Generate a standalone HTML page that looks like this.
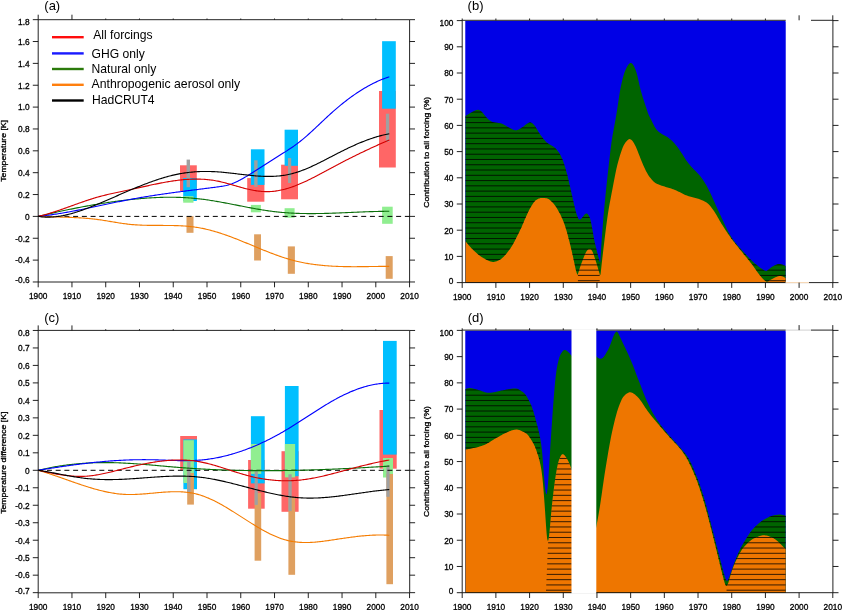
<!DOCTYPE html>
<html><head><meta charset="utf-8"><title>Figure</title>
<style>
html,body{margin:0;padding:0;background:#fff;}
svg{display:block;font-family:"Liberation Sans", sans-serif;fill:#000;will-change:transform;}
.tk{stroke:#000;stroke-width:0.32px;}
</style></head>
<body>
<svg width="842" height="610" viewBox="0 0 842 610">
<rect width="842" height="610" fill="#fff"/>
<g id="pa">
<rect x="180" y="165.3" width="16.8" height="25.7" fill="#ff6666"/>
<rect x="247.2" y="178.1" width="17.2" height="23.6" fill="#ff6666"/>
<rect x="281.1" y="164.7" width="16.9" height="34.6" fill="#ff6666"/>
<rect x="379" y="91" width="16.8" height="76.5" fill="#ff6666"/>
<rect x="183.2" y="178" width="13.6" height="23" fill="#00bfff"/>
<rect x="250.9" y="149.3" width="13.6" height="35.6" fill="#00bfff"/>
<rect x="284.6" y="129.7" width="13.4" height="36.1" fill="#00bfff"/>
<rect x="382.1" y="41.2" width="13.7" height="67.5" fill="#00bfff"/>
<rect x="183.2" y="196.2" width="10.3" height="6.5" fill="#90ee90"/>
<rect x="250.9" y="204.9" width="10" height="7.4" fill="#90ee90"/>
<rect x="284.6" y="208.2" width="10" height="9.5" fill="#90ee90"/>
<rect x="382.1" y="206.7" width="10.6" height="17.1" fill="#90ee90"/>
<rect x="186.5" y="216.2" width="7" height="16.6" fill="#dfa060"/>
<rect x="254.1" y="234.3" width="6.9" height="26.2" fill="#dfa060"/>
<rect x="287.8" y="246.4" width="7.1" height="27.4" fill="#dfa060"/>
<rect x="385.7" y="256.1" width="7" height="22.7" fill="#dfa060"/>
<rect x="186.6" y="159.6" width="3.4" height="27.6" fill="#a0a0a0"/>
<rect x="254.2" y="160.3" width="3.4" height="26.5" fill="#a0a0a0"/>
<rect x="288" y="158.1" width="3.2" height="24.9" fill="#a0a0a0"/>
<rect x="385.9" y="113.7" width="3.3" height="28" fill="#a0a0a0"/>
<line x1="38.2" y1="216.4" x2="409.6" y2="216.4" stroke="#000" stroke-width="1" stroke-dasharray="5 3.73"/>
<path d="M38.2,216.4 L39.37,216.45 L40.55,216.5 L41.72,216.55 L42.9,216.59 L44.07,216.63 L45.25,216.67 L46.42,216.71 L47.59,216.75 L48.77,216.78 L49.94,216.81 L51.12,216.85 L52.29,216.88 L53.47,216.91 L54.64,216.94 L55.81,216.97 L56.99,217 L58.16,217.03 L59.34,217.06 L60.51,217.09 L61.69,217.12 L62.86,217.15 L64.03,217.19 L65.21,217.22 L66.38,217.26 L67.56,217.3 L68.73,217.34 L69.91,217.38 L71.08,217.43 L72.25,217.47 L73.43,217.52 L74.6,217.58 L75.78,217.63 L76.95,217.69 L78.12,217.76 L79.3,217.82 L80.47,217.89 L81.65,217.97 L82.82,218.05 L84,218.13 L85.17,218.22 L86.34,218.32 L87.52,218.41 L88.69,218.52 L89.87,218.63 L91.04,218.74 L92.22,218.87 L93.39,218.99 L94.56,219.13 L95.74,219.27 L96.91,219.42 L98.09,219.57 L99.26,219.73 L100.44,219.9 L101.61,220.07 L102.78,220.25 L103.96,220.43 L105.13,220.62 L106.31,220.81 L107.48,221 L108.66,221.19 L109.83,221.39 L111,221.58 L112.18,221.78 L113.35,221.98 L114.53,222.17 L115.7,222.36 L116.88,222.55 L118.05,222.74 L119.22,222.93 L120.4,223.11 L121.57,223.28 L122.75,223.45 L123.92,223.62 L125.1,223.78 L126.27,223.93 L127.44,224.07 L128.62,224.21 L129.79,224.34 L130.97,224.46 L132.14,224.57 L133.32,224.67 L134.49,224.76 L135.66,224.84 L136.84,224.92 L138.01,224.99 L139.19,225.05 L140.36,225.11 L141.53,225.16 L142.71,225.2 L143.88,225.24 L145.06,225.28 L146.23,225.31 L147.41,225.33 L148.58,225.35 L149.75,225.37 L150.93,225.39 L152.1,225.4 L153.28,225.41 L154.45,225.41 L155.63,225.42 L156.8,225.42 L157.97,225.43 L159.15,225.43 L160.32,225.43 L161.5,225.43 L162.67,225.43 L163.85,225.44 L165.02,225.44 L166.19,225.45 L167.37,225.46 L168.54,225.47 L169.72,225.48 L170.89,225.5 L172.07,225.52 L173.24,225.54 L174.41,225.57 L175.59,225.6 L176.76,225.64 L177.94,225.68 L179.11,225.73 L180.29,225.78 L181.46,225.84 L182.63,225.91 L183.81,225.98 L184.98,226.06 L186.16,226.15 L187.33,226.25 L188.51,226.35 L189.68,226.47 L190.85,226.59 L192.03,226.73 L193.2,226.87 L194.38,227.02 L195.55,227.19 L196.73,227.37 L197.9,227.55 L199.07,227.75 L200.25,227.96 L201.42,228.19 L202.6,228.42 L203.77,228.67 L204.95,228.92 L206.12,229.19 L207.29,229.47 L208.47,229.76 L209.64,230.05 L210.82,230.36 L211.99,230.68 L213.16,231 L214.34,231.34 L215.51,231.68 L216.69,232.04 L217.86,232.4 L219.04,232.77 L220.21,233.14 L221.38,233.53 L222.56,233.92 L223.73,234.32 L224.91,234.72 L226.08,235.13 L227.26,235.55 L228.43,235.98 L229.6,236.4 L230.78,236.84 L231.95,237.28 L233.13,237.73 L234.3,238.18 L235.48,238.63 L236.65,239.09 L237.82,239.55 L239,240.02 L240.17,240.49 L241.35,240.96 L242.52,241.44 L243.7,241.92 L244.87,242.4 L246.04,242.88 L247.22,243.37 L248.39,243.85 L249.57,244.34 L250.74,244.83 L251.92,245.31 L253.09,245.8 L254.26,246.29 L255.44,246.78 L256.61,247.26 L257.79,247.75 L258.96,248.23 L260.14,248.71 L261.31,249.19 L262.48,249.67 L263.66,250.15 L264.83,250.62 L266.01,251.09 L267.18,251.56 L268.36,252.02 L269.53,252.48 L270.7,252.93 L271.88,253.38 L273.05,253.82 L274.23,254.26 L275.4,254.69 L276.57,255.12 L277.75,255.54 L278.92,255.96 L280.1,256.37 L281.27,256.77 L282.45,257.16 L283.62,257.55 L284.79,257.93 L285.97,258.3 L287.14,258.66 L288.32,259.01 L289.49,259.35 L290.67,259.69 L291.84,260.01 L293.01,260.33 L294.19,260.63 L295.36,260.93 L296.54,261.21 L297.71,261.49 L298.89,261.76 L300.06,262.02 L301.23,262.27 L302.41,262.51 L303.58,262.74 L304.76,262.96 L305.93,263.18 L307.11,263.39 L308.28,263.59 L309.45,263.78 L310.63,263.96 L311.8,264.14 L312.98,264.31 L314.15,264.47 L315.33,264.62 L316.5,264.77 L317.67,264.91 L318.85,265.05 L320.02,265.18 L321.2,265.3 L322.37,265.41 L323.55,265.52 L324.72,265.63 L325.89,265.72 L327.07,265.81 L328.24,265.9 L329.42,265.98 L330.59,266.06 L331.77,266.13 L332.94,266.19 L334.11,266.25 L335.29,266.31 L336.46,266.36 L337.64,266.41 L338.81,266.45 L339.99,266.49 L341.16,266.53 L342.33,266.56 L343.51,266.58 L344.68,266.61 L345.86,266.63 L347.03,266.65 L348.2,266.66 L349.38,266.67 L350.55,266.68 L351.73,266.69 L352.9,266.69 L354.08,266.69 L355.25,266.69 L356.42,266.69 L357.6,266.68 L358.77,266.68 L359.95,266.67 L361.12,266.66 L362.3,266.65 L363.47,266.63 L364.64,266.62 L365.82,266.61 L366.99,266.59 L368.17,266.58 L369.34,266.56 L370.52,266.54 L371.69,266.53 L372.86,266.51 L374.04,266.49 L375.21,266.48 L376.39,266.46 L377.56,266.44 L378.74,266.43 L379.91,266.42 L381.08,266.4 L382.26,266.39 L383.43,266.38 L384.61,266.37 L385.78,266.36 L386.96,266.36 L388.13,266.35 L389.3,266.35" fill="none" stroke="#f57c00" stroke-width="1.12" stroke-linejoin="round"/>
<path d="M38.2,216.4 L39.37,216.12 L40.55,215.84 L41.72,215.56 L42.9,215.29 L44.07,215.01 L45.25,214.74 L46.42,214.46 L47.59,214.19 L48.77,213.92 L49.94,213.65 L51.12,213.39 L52.29,213.12 L53.47,212.86 L54.64,212.59 L55.81,212.33 L56.99,212.07 L58.16,211.81 L59.34,211.56 L60.51,211.3 L61.69,211.05 L62.86,210.8 L64.03,210.55 L65.21,210.3 L66.38,210.05 L67.56,209.8 L68.73,209.56 L69.91,209.32 L71.08,209.08 L72.25,208.84 L73.43,208.6 L74.6,208.37 L75.78,208.13 L76.95,207.9 L78.12,207.67 L79.3,207.44 L80.47,207.22 L81.65,206.99 L82.82,206.77 L84,206.55 L85.17,206.33 L86.34,206.11 L87.52,205.9 L88.69,205.69 L89.87,205.48 L91.04,205.27 L92.22,205.06 L93.39,204.86 L94.56,204.66 L95.74,204.46 L96.91,204.26 L98.09,204.06 L99.26,203.87 L100.44,203.68 L101.61,203.49 L102.78,203.3 L103.96,203.11 L105.13,202.93 L106.31,202.75 L107.48,202.57 L108.66,202.4 L109.83,202.22 L111,202.05 L112.18,201.88 L113.35,201.72 L114.53,201.55 L115.7,201.39 L116.88,201.23 L118.05,201.08 L119.22,200.92 L120.4,200.77 L121.57,200.62 L122.75,200.48 L123.92,200.33 L125.1,200.19 L126.27,200.05 L127.44,199.92 L128.62,199.78 L129.79,199.65 L130.97,199.52 L132.14,199.4 L133.32,199.28 L134.49,199.16 L135.66,199.04 L136.84,198.93 L138.01,198.82 L139.19,198.71 L140.36,198.61 L141.53,198.51 L142.71,198.41 L143.88,198.32 L145.06,198.23 L146.23,198.14 L147.41,198.06 L148.58,197.98 L149.75,197.91 L150.93,197.84 L152.1,197.77 L153.28,197.7 L154.45,197.64 L155.63,197.59 L156.8,197.54 L157.97,197.49 L159.15,197.45 L160.32,197.41 L161.5,197.37 L162.67,197.34 L163.85,197.31 L165.02,197.29 L166.19,197.27 L167.37,197.26 L168.54,197.25 L169.72,197.25 L170.89,197.25 L172.07,197.26 L173.24,197.27 L174.41,197.28 L175.59,197.3 L176.76,197.33 L177.94,197.36 L179.11,197.39 L180.29,197.43 L181.46,197.48 L182.63,197.53 L183.81,197.59 L184.98,197.65 L186.16,197.72 L187.33,197.79 L188.51,197.87 L189.68,197.95 L190.85,198.04 L192.03,198.13 L193.2,198.24 L194.38,198.34 L195.55,198.45 L196.73,198.57 L197.9,198.7 L199.07,198.83 L200.25,198.96 L201.42,199.11 L202.6,199.25 L203.77,199.41 L204.95,199.56 L206.12,199.73 L207.29,199.9 L208.47,200.07 L209.64,200.25 L210.82,200.43 L211.99,200.61 L213.16,200.8 L214.34,201 L215.51,201.19 L216.69,201.4 L217.86,201.6 L219.04,201.81 L220.21,202.02 L221.38,202.23 L222.56,202.44 L223.73,202.66 L224.91,202.88 L226.08,203.1 L227.26,203.32 L228.43,203.55 L229.6,203.77 L230.78,204 L231.95,204.23 L233.13,204.46 L234.3,204.69 L235.48,204.92 L236.65,205.15 L237.82,205.38 L239,205.61 L240.17,205.84 L241.35,206.07 L242.52,206.3 L243.7,206.53 L244.87,206.76 L246.04,206.98 L247.22,207.21 L248.39,207.43 L249.57,207.66 L250.74,207.88 L251.92,208.09 L253.09,208.31 L254.26,208.52 L255.44,208.73 L256.61,208.94 L257.79,209.15 L258.96,209.35 L260.14,209.55 L261.31,209.74 L262.48,209.93 L263.66,210.12 L264.83,210.3 L266.01,210.48 L267.18,210.66 L268.36,210.83 L269.53,210.99 L270.7,211.15 L271.88,211.3 L273.05,211.45 L274.23,211.6 L275.4,211.74 L276.57,211.87 L277.75,212 L278.92,212.12 L280.1,212.23 L281.27,212.34 L282.45,212.45 L283.62,212.55 L284.79,212.64 L285.97,212.73 L287.14,212.81 L288.32,212.89 L289.49,212.97 L290.67,213.04 L291.84,213.1 L293.01,213.16 L294.19,213.22 L295.36,213.27 L296.54,213.32 L297.71,213.36 L298.89,213.4 L300.06,213.44 L301.23,213.47 L302.41,213.5 L303.58,213.52 L304.76,213.54 L305.93,213.56 L307.11,213.57 L308.28,213.58 L309.45,213.59 L310.63,213.59 L311.8,213.59 L312.98,213.59 L314.15,213.58 L315.33,213.58 L316.5,213.56 L317.67,213.55 L318.85,213.53 L320.02,213.52 L321.2,213.49 L322.37,213.47 L323.55,213.45 L324.72,213.42 L325.89,213.39 L327.07,213.36 L328.24,213.32 L329.42,213.29 L330.59,213.25 L331.77,213.21 L332.94,213.17 L334.11,213.13 L335.29,213.09 L336.46,213.04 L337.64,213 L338.81,212.95 L339.99,212.91 L341.16,212.86 L342.33,212.81 L343.51,212.76 L344.68,212.71 L345.86,212.66 L347.03,212.61 L348.2,212.56 L349.38,212.51 L350.55,212.45 L351.73,212.4 L352.9,212.35 L354.08,212.3 L355.25,212.25 L356.42,212.2 L357.6,212.15 L358.77,212.1 L359.95,212.05 L361.12,212 L362.3,211.95 L363.47,211.9 L364.64,211.86 L365.82,211.81 L366.99,211.77 L368.17,211.73 L369.34,211.68 L370.52,211.64 L371.69,211.61 L372.86,211.57 L374.04,211.53 L375.21,211.5 L376.39,211.47 L377.56,211.44 L378.74,211.41 L379.91,211.38 L381.08,211.36 L382.26,211.34 L383.43,211.32 L384.61,211.3 L385.78,211.29 L386.96,211.28 L388.13,211.27 L389.3,211.26" fill="none" stroke="#0a6e0a" stroke-width="1.12" stroke-linejoin="round"/>
<path d="M38.2,216.4 L39.37,216.28 L40.55,216.15 L41.72,216.02 L42.9,215.89 L44.07,215.75 L45.25,215.61 L46.42,215.46 L47.59,215.31 L48.77,215.15 L49.94,214.99 L51.12,214.83 L52.29,214.66 L53.47,214.49 L54.64,214.31 L55.81,214.13 L56.99,213.95 L58.16,213.76 L59.34,213.57 L60.51,213.38 L61.69,213.18 L62.86,212.98 L64.03,212.78 L65.21,212.57 L66.38,212.36 L67.56,212.15 L68.73,211.94 L69.91,211.72 L71.08,211.5 L72.25,211.28 L73.43,211.06 L74.6,210.83 L75.78,210.61 L76.95,210.38 L78.12,210.14 L79.3,209.91 L80.47,209.68 L81.65,209.44 L82.82,209.2 L84,208.96 L85.17,208.72 L86.34,208.48 L87.52,208.24 L88.69,207.99 L89.87,207.75 L91.04,207.5 L92.22,207.25 L93.39,207.01 L94.56,206.76 L95.74,206.51 L96.91,206.26 L98.09,206.01 L99.26,205.76 L100.44,205.51 L101.61,205.26 L102.78,205.01 L103.96,204.77 L105.13,204.52 L106.31,204.27 L107.48,204.02 L108.66,203.77 L109.83,203.52 L111,203.28 L112.18,203.03 L113.35,202.79 L114.53,202.55 L115.7,202.3 L116.88,202.06 L118.05,201.82 L119.22,201.58 L120.4,201.35 L121.57,201.11 L122.75,200.88 L123.92,200.65 L125.1,200.41 L126.27,200.19 L127.44,199.96 L128.62,199.74 L129.79,199.51 L130.97,199.3 L132.14,199.08 L133.32,198.86 L134.49,198.65 L135.66,198.44 L136.84,198.23 L138.01,198.03 L139.19,197.82 L140.36,197.62 L141.53,197.42 L142.71,197.22 L143.88,197.03 L145.06,196.83 L146.23,196.64 L147.41,196.45 L148.58,196.26 L149.75,196.07 L150.93,195.89 L152.1,195.7 L153.28,195.52 L154.45,195.34 L155.63,195.16 L156.8,194.98 L157.97,194.81 L159.15,194.63 L160.32,194.46 L161.5,194.29 L162.67,194.12 L163.85,193.95 L165.02,193.78 L166.19,193.62 L167.37,193.45 L168.54,193.29 L169.72,193.12 L170.89,192.96 L172.07,192.8 L173.24,192.64 L174.41,192.48 L175.59,192.32 L176.76,192.16 L177.94,192.01 L179.11,191.85 L180.29,191.7 L181.46,191.54 L182.63,191.39 L183.81,191.24 L184.98,191.08 L186.16,190.93 L187.33,190.78 L188.51,190.63 L189.68,190.48 L190.85,190.33 L192.03,190.18 L193.2,190.03 L194.38,189.88 L195.55,189.73 L196.73,189.59 L197.9,189.44 L199.07,189.29 L200.25,189.14 L201.42,188.99 L202.6,188.85 L203.77,188.7 L204.95,188.55 L206.12,188.4 L207.29,188.26 L208.47,188.11 L209.64,187.96 L210.82,187.81 L211.99,187.66 L213.16,187.51 L214.34,187.36 L215.51,187.21 L216.69,187.06 L217.86,186.91 L219.04,186.75 L220.21,186.57 L221.38,186.39 L222.56,186.19 L223.73,185.97 L224.91,185.73 L226.08,185.47 L227.26,185.18 L228.43,184.86 L229.6,184.5 L230.78,184.12 L231.95,183.7 L233.13,183.24 L234.3,182.76 L235.48,182.24 L236.65,181.7 L237.82,181.13 L239,180.54 L240.17,179.93 L241.35,179.3 L242.52,178.65 L243.7,177.99 L244.87,177.31 L246.04,176.62 L247.22,175.92 L248.39,175.21 L249.57,174.49 L250.74,173.77 L251.92,173.04 L253.09,172.31 L254.26,171.57 L255.44,170.82 L256.61,170.07 L257.79,169.32 L258.96,168.57 L260.14,167.81 L261.31,167.05 L262.48,166.29 L263.66,165.53 L264.83,164.76 L266.01,164 L267.18,163.24 L268.36,162.48 L269.53,161.72 L270.7,160.97 L271.88,160.21 L273.05,159.46 L274.23,158.72 L275.4,157.98 L276.57,157.24 L277.75,156.51 L278.92,155.78 L280.1,155.05 L281.27,154.32 L282.45,153.58 L283.62,152.84 L284.79,152.1 L285.97,151.36 L287.14,150.6 L288.32,149.84 L289.49,149.07 L290.67,148.28 L291.84,147.49 L293.01,146.68 L294.19,145.85 L295.36,145.02 L296.54,144.16 L297.71,143.28 L298.89,142.39 L300.06,141.47 L301.23,140.54 L302.41,139.58 L303.58,138.6 L304.76,137.61 L305.93,136.59 L307.11,135.57 L308.28,134.53 L309.45,133.47 L310.63,132.41 L311.8,131.33 L312.98,130.25 L314.15,129.16 L315.33,128.06 L316.5,126.95 L317.67,125.84 L318.85,124.73 L320.02,123.62 L321.2,122.51 L322.37,121.4 L323.55,120.29 L324.72,119.19 L325.89,118.09 L327.07,116.99 L328.24,115.91 L329.42,114.83 L330.59,113.76 L331.77,112.71 L332.94,111.66 L334.11,110.63 L335.29,109.61 L336.46,108.6 L337.64,107.6 L338.81,106.61 L339.99,105.64 L341.16,104.67 L342.33,103.72 L343.51,102.78 L344.68,101.86 L345.86,100.94 L347.03,100.04 L348.2,99.15 L349.38,98.27 L350.55,97.41 L351.73,96.56 L352.9,95.72 L354.08,94.9 L355.25,94.09 L356.42,93.29 L357.6,92.5 L358.77,91.73 L359.95,90.97 L361.12,90.23 L362.3,89.5 L363.47,88.79 L364.64,88.08 L365.82,87.4 L366.99,86.72 L368.17,86.07 L369.34,85.42 L370.52,84.79 L371.69,84.18 L372.86,83.58 L374.04,83 L375.21,82.43 L376.39,81.87 L377.56,81.34 L378.74,80.81 L379.91,80.31 L381.08,79.81 L382.26,79.34 L383.43,78.88 L384.61,78.44 L385.78,78.01 L386.96,77.6 L388.13,77.2 L389.3,76.82" fill="none" stroke="#0000ff" stroke-width="1.12" stroke-linejoin="round"/>
<path d="M38.2,216.4 L39.37,216.13 L40.55,215.84 L41.72,215.54 L42.9,215.24 L44.07,214.93 L45.25,214.6 L46.42,214.27 L47.59,213.93 L48.77,213.59 L49.94,213.23 L51.12,212.87 L52.29,212.5 L53.47,212.13 L54.64,211.75 L55.81,211.36 L56.99,210.97 L58.16,210.58 L59.34,210.18 L60.51,209.77 L61.69,209.37 L62.86,208.96 L64.03,208.54 L65.21,208.13 L66.38,207.71 L67.56,207.29 L68.73,206.87 L69.91,206.45 L71.08,206.03 L72.25,205.6 L73.43,205.18 L74.6,204.76 L75.78,204.34 L76.95,203.92 L78.12,203.5 L79.3,203.08 L80.47,202.67 L81.65,202.26 L82.82,201.85 L84,201.44 L85.17,201.04 L86.34,200.64 L87.52,200.25 L88.69,199.86 L89.87,199.48 L91.04,199.11 L92.22,198.73 L93.39,198.37 L94.56,198.01 L95.74,197.66 L96.91,197.32 L98.09,196.99 L99.26,196.66 L100.44,196.34 L101.61,196.03 L102.78,195.72 L103.96,195.42 L105.13,195.13 L106.31,194.84 L107.48,194.56 L108.66,194.28 L109.83,194.01 L111,193.74 L112.18,193.48 L113.35,193.22 L114.53,192.96 L115.7,192.7 L116.88,192.45 L118.05,192.2 L119.22,191.95 L120.4,191.7 L121.57,191.45 L122.75,191.21 L123.92,190.96 L125.1,190.71 L126.27,190.47 L127.44,190.22 L128.62,189.97 L129.79,189.72 L130.97,189.46 L132.14,189.21 L133.32,188.95 L134.49,188.7 L135.66,188.44 L136.84,188.18 L138.01,187.92 L139.19,187.66 L140.36,187.39 L141.53,187.13 L142.71,186.87 L143.88,186.61 L145.06,186.35 L146.23,186.09 L147.41,185.83 L148.58,185.58 L149.75,185.32 L150.93,185.07 L152.1,184.82 L153.28,184.57 L154.45,184.32 L155.63,184.08 L156.8,183.84 L157.97,183.6 L159.15,183.37 L160.32,183.14 L161.5,182.91 L162.67,182.69 L163.85,182.47 L165.02,182.26 L166.19,182.05 L167.37,181.85 L168.54,181.65 L169.72,181.46 L170.89,181.27 L172.07,181.09 L173.24,180.92 L174.41,180.75 L175.59,180.59 L176.76,180.43 L177.94,180.28 L179.11,180.14 L180.29,180.01 L181.46,179.89 L182.63,179.77 L183.81,179.66 L184.98,179.56 L186.16,179.47 L187.33,179.39 L188.51,179.32 L189.68,179.25 L190.85,179.2 L192.03,179.16 L193.2,179.12 L194.38,179.1 L195.55,179.09 L196.73,179.08 L197.9,179.09 L199.07,179.11 L200.25,179.14 L201.42,179.19 L202.6,179.24 L203.77,179.31 L204.95,179.39 L206.12,179.48 L207.29,179.59 L208.47,179.71 L209.64,179.84 L210.82,179.99 L211.99,180.15 L213.16,180.32 L214.34,180.51 L215.51,180.71 L216.69,180.93 L217.86,181.16 L219.04,181.41 L220.21,181.67 L221.38,181.94 L222.56,182.22 L223.73,182.52 L224.91,182.82 L226.08,183.13 L227.26,183.45 L228.43,183.78 L229.6,184.11 L230.78,184.44 L231.95,184.78 L233.13,185.12 L234.3,185.46 L235.48,185.8 L236.65,186.14 L237.82,186.48 L239,186.82 L240.17,187.15 L241.35,187.48 L242.52,187.8 L243.7,188.12 L244.87,188.42 L246.04,188.72 L247.22,189.01 L248.39,189.29 L249.57,189.55 L250.74,189.8 L251.92,190.04 L253.09,190.27 L254.26,190.48 L255.44,190.67 L256.61,190.85 L257.79,191.01 L258.96,191.15 L260.14,191.28 L261.31,191.39 L262.48,191.47 L263.66,191.54 L264.83,191.59 L266.01,191.62 L267.18,191.63 L268.36,191.62 L269.53,191.58 L270.7,191.53 L271.88,191.45 L273.05,191.34 L274.23,191.22 L275.4,191.07 L276.57,190.9 L277.75,190.72 L278.92,190.51 L280.1,190.28 L281.27,190.03 L282.45,189.76 L283.62,189.48 L284.79,189.18 L285.97,188.86 L287.14,188.52 L288.32,188.17 L289.49,187.8 L290.67,187.41 L291.84,187.01 L293.01,186.6 L294.19,186.17 L295.36,185.73 L296.54,185.27 L297.71,184.8 L298.89,184.32 L300.06,183.83 L301.23,183.33 L302.41,182.81 L303.58,182.29 L304.76,181.75 L305.93,181.21 L307.11,180.65 L308.28,180.09 L309.45,179.52 L310.63,178.94 L311.8,178.36 L312.98,177.77 L314.15,177.17 L315.33,176.57 L316.5,175.96 L317.67,175.35 L318.85,174.73 L320.02,174.11 L321.2,173.49 L322.37,172.86 L323.55,172.23 L324.72,171.6 L325.89,170.96 L327.07,170.33 L328.24,169.69 L329.42,169.06 L330.59,168.42 L331.77,167.79 L332.94,167.16 L334.11,166.53 L335.29,165.9 L336.46,165.27 L337.64,164.65 L338.81,164.03 L339.99,163.41 L341.16,162.8 L342.33,162.19 L343.51,161.58 L344.68,160.98 L345.86,160.37 L347.03,159.78 L348.2,159.18 L349.38,158.59 L350.55,158 L351.73,157.41 L352.9,156.82 L354.08,156.24 L355.25,155.66 L356.42,155.08 L357.6,154.51 L358.77,153.94 L359.95,153.37 L361.12,152.8 L362.3,152.24 L363.47,151.68 L364.64,151.12 L365.82,150.56 L366.99,150.01 L368.17,149.45 L369.34,148.9 L370.52,148.36 L371.69,147.81 L372.86,147.27 L374.04,146.73 L375.21,146.19 L376.39,145.65 L377.56,145.12 L378.74,144.59 L379.91,144.06 L381.08,143.53 L382.26,143 L383.43,142.48 L384.61,141.96 L385.78,141.44 L386.96,140.92 L388.13,140.4 L389.3,139.89" fill="none" stroke="#d40000" stroke-width="1.12" stroke-linejoin="round"/>
<path d="M38.2,216.4 L39.37,216.57 L40.55,216.72 L41.72,216.84 L42.9,216.94 L44.07,217.02 L45.25,217.08 L46.42,217.11 L47.59,217.13 L48.77,217.12 L49.94,217.1 L51.12,217.05 L52.29,216.99 L53.47,216.91 L54.64,216.81 L55.81,216.69 L56.99,216.55 L58.16,216.4 L59.34,216.22 L60.51,216.04 L61.69,215.83 L62.86,215.62 L64.03,215.38 L65.21,215.14 L66.38,214.87 L67.56,214.6 L68.73,214.31 L69.91,214.01 L71.08,213.69 L72.25,213.36 L73.43,213.02 L74.6,212.67 L75.78,212.31 L76.95,211.94 L78.12,211.56 L79.3,211.17 L80.47,210.77 L81.65,210.36 L82.82,209.94 L84,209.52 L85.17,209.08 L86.34,208.64 L87.52,208.2 L88.69,207.74 L89.87,207.28 L91.04,206.82 L92.22,206.35 L93.39,205.88 L94.56,205.4 L95.74,204.92 L96.91,204.43 L98.09,203.94 L99.26,203.45 L100.44,202.96 L101.61,202.46 L102.78,201.96 L103.96,201.46 L105.13,200.96 L106.31,200.45 L107.48,199.95 L108.66,199.44 L109.83,198.94 L111,198.43 L112.18,197.92 L113.35,197.41 L114.53,196.9 L115.7,196.39 L116.88,195.88 L118.05,195.37 L119.22,194.86 L120.4,194.35 L121.57,193.84 L122.75,193.33 L123.92,192.82 L125.1,192.32 L126.27,191.81 L127.44,191.31 L128.62,190.81 L129.79,190.31 L130.97,189.82 L132.14,189.32 L133.32,188.83 L134.49,188.34 L135.66,187.86 L136.84,187.37 L138.01,186.89 L139.19,186.42 L140.36,185.95 L141.53,185.48 L142.71,185.02 L143.88,184.56 L145.06,184.1 L146.23,183.65 L147.41,183.21 L148.58,182.77 L149.75,182.34 L150.93,181.91 L152.1,181.49 L153.28,181.07 L154.45,180.66 L155.63,180.26 L156.8,179.86 L157.97,179.47 L159.15,179.09 L160.32,178.71 L161.5,178.35 L162.67,177.99 L163.85,177.63 L165.02,177.29 L166.19,176.96 L167.37,176.63 L168.54,176.31 L169.72,176 L170.89,175.7 L172.07,175.41 L173.24,175.13 L174.41,174.86 L175.59,174.6 L176.76,174.35 L177.94,174.11 L179.11,173.89 L180.29,173.67 L181.46,173.46 L182.63,173.27 L183.81,173.08 L184.98,172.91 L186.16,172.74 L187.33,172.59 L188.51,172.45 L189.68,172.31 L190.85,172.19 L192.03,172.08 L193.2,171.97 L194.38,171.88 L195.55,171.8 L196.73,171.72 L197.9,171.66 L199.07,171.6 L200.25,171.56 L201.42,171.52 L202.6,171.49 L203.77,171.47 L204.95,171.46 L206.12,171.46 L207.29,171.47 L208.47,171.48 L209.64,171.51 L210.82,171.54 L211.99,171.58 L213.16,171.62 L214.34,171.68 L215.51,171.74 L216.69,171.81 L217.86,171.89 L219.04,171.97 L220.21,172.06 L221.38,172.16 L222.56,172.26 L223.73,172.37 L224.91,172.49 L226.08,172.61 L227.26,172.73 L228.43,172.85 L229.6,172.98 L230.78,173.12 L231.95,173.25 L233.13,173.39 L234.3,173.53 L235.48,173.67 L236.65,173.81 L237.82,173.95 L239,174.09 L240.17,174.24 L241.35,174.38 L242.52,174.51 L243.7,174.65 L244.87,174.79 L246.04,174.92 L247.22,175.05 L248.39,175.18 L249.57,175.3 L250.74,175.42 L251.92,175.53 L253.09,175.64 L254.26,175.75 L255.44,175.85 L256.61,175.94 L257.79,176.02 L258.96,176.1 L260.14,176.17 L261.31,176.23 L262.48,176.29 L263.66,176.33 L264.83,176.37 L266.01,176.4 L267.18,176.41 L268.36,176.42 L269.53,176.42 L270.7,176.4 L271.88,176.37 L273.05,176.33 L274.23,176.28 L275.4,176.22 L276.57,176.14 L277.75,176.05 L278.92,175.94 L280.1,175.82 L281.27,175.68 L282.45,175.53 L283.62,175.36 L284.79,175.18 L285.97,174.98 L287.14,174.76 L288.32,174.53 L289.49,174.28 L290.67,174.01 L291.84,173.72 L293.01,173.41 L294.19,173.08 L295.36,172.74 L296.54,172.38 L297.71,172 L298.89,171.6 L300.06,171.19 L301.23,170.77 L302.41,170.33 L303.58,169.88 L304.76,169.41 L305.93,168.93 L307.11,168.44 L308.28,167.94 L309.45,167.43 L310.63,166.91 L311.8,166.38 L312.98,165.83 L314.15,165.28 L315.33,164.73 L316.5,164.16 L317.67,163.59 L318.85,163.01 L320.02,162.42 L321.2,161.83 L322.37,161.24 L323.55,160.64 L324.72,160.04 L325.89,159.43 L327.07,158.82 L328.24,158.21 L329.42,157.6 L330.59,156.99 L331.77,156.38 L332.94,155.77 L334.11,155.16 L335.29,154.55 L336.46,153.94 L337.64,153.34 L338.81,152.74 L339.99,152.14 L341.16,151.55 L342.33,150.96 L343.51,150.38 L344.68,149.8 L345.86,149.23 L347.03,148.66 L348.2,148.1 L349.38,147.55 L350.55,147 L351.73,146.45 L352.9,145.92 L354.08,145.39 L355.25,144.87 L356.42,144.35 L357.6,143.84 L358.77,143.34 L359.95,142.85 L361.12,142.36 L362.3,141.89 L363.47,141.42 L364.64,140.96 L365.82,140.51 L366.99,140.07 L368.17,139.64 L369.34,139.22 L370.52,138.81 L371.69,138.41 L372.86,138.02 L374.04,137.64 L375.21,137.27 L376.39,136.91 L377.56,136.57 L378.74,136.23 L379.91,135.91 L381.08,135.6 L382.26,135.3 L383.43,135.01 L384.61,134.74 L385.78,134.47 L386.96,134.23 L388.13,133.99 L389.3,133.77" fill="none" stroke="#000" stroke-width="1.12" stroke-linejoin="round"/>
<path d="M38.2,19.7 H409.6 V282 H38.2 Z" fill="none" stroke="#0a0a0a" stroke-width="0.9"/>
<path d="M32.8,281.98 H38.2 M409.6,281.98 H415" stroke="#0a0a0a" stroke-width="0.9"/>
<text transform="translate(29.6,283.28) scale(0.85,1)" text-anchor="end" font-size="9.8" class="tk">-0.6</text>
<path d="M32.8,260.12 H38.2 M409.6,260.12 H415" stroke="#0a0a0a" stroke-width="0.9"/>
<text transform="translate(29.6,263.42) scale(0.85,1)" text-anchor="end" font-size="9.8" class="tk">-0.4</text>
<path d="M32.8,238.26 H38.2 M409.6,238.26 H415" stroke="#0a0a0a" stroke-width="0.9"/>
<text transform="translate(29.6,241.56) scale(0.85,1)" text-anchor="end" font-size="9.8" class="tk">-0.2</text>
<path d="M32.8,216.4 H38.2 M409.6,216.4 H415" stroke="#0a0a0a" stroke-width="0.9"/>
<text transform="translate(29.6,219.7) scale(0.85,1)" text-anchor="end" font-size="9.8" class="tk">0</text>
<path d="M32.8,194.54 H38.2 M409.6,194.54 H415" stroke="#0a0a0a" stroke-width="0.9"/>
<text transform="translate(29.6,197.84) scale(0.85,1)" text-anchor="end" font-size="9.8" class="tk">0.2</text>
<path d="M32.8,172.68 H38.2 M409.6,172.68 H415" stroke="#0a0a0a" stroke-width="0.9"/>
<text transform="translate(29.6,175.98) scale(0.85,1)" text-anchor="end" font-size="9.8" class="tk">0.4</text>
<path d="M32.8,150.82 H38.2 M409.6,150.82 H415" stroke="#0a0a0a" stroke-width="0.9"/>
<text transform="translate(29.6,154.12) scale(0.85,1)" text-anchor="end" font-size="9.8" class="tk">0.6</text>
<path d="M32.8,128.96 H38.2 M409.6,128.96 H415" stroke="#0a0a0a" stroke-width="0.9"/>
<text transform="translate(29.6,132.26) scale(0.85,1)" text-anchor="end" font-size="9.8" class="tk">0.8</text>
<path d="M32.8,107.1 H38.2 M409.6,107.1 H415" stroke="#0a0a0a" stroke-width="0.9"/>
<text transform="translate(29.6,110.4) scale(0.85,1)" text-anchor="end" font-size="9.8" class="tk">1.0</text>
<path d="M32.8,85.24 H38.2 M409.6,85.24 H415" stroke="#0a0a0a" stroke-width="0.9"/>
<text transform="translate(29.6,88.54) scale(0.85,1)" text-anchor="end" font-size="9.8" class="tk">1.2</text>
<path d="M32.8,63.38 H38.2 M409.6,63.38 H415" stroke="#0a0a0a" stroke-width="0.9"/>
<text transform="translate(29.6,66.68) scale(0.85,1)" text-anchor="end" font-size="9.8" class="tk">1.4</text>
<path d="M32.8,41.52 H38.2 M409.6,41.52 H415" stroke="#0a0a0a" stroke-width="0.9"/>
<text transform="translate(29.6,44.82) scale(0.85,1)" text-anchor="end" font-size="9.8" class="tk">1.6</text>
<path d="M32.8,19.66 H38.2 M409.6,19.66 H415" stroke="#0a0a0a" stroke-width="0.9"/>
<text transform="translate(29.6,25.36) scale(0.85,1)" text-anchor="end" font-size="9.8" class="tk">1.8</text>
<path d="M38.2,282 V287.3" stroke="#0a0a0a" stroke-width="0.9"/>
<path d="M38.2,19.7 V14.7" stroke="#0a0a0a" stroke-width="0.9"/>
<text transform="translate(38.2,299.3) scale(0.85,1)" text-anchor="middle" font-size="9.8" class="tk">1900</text>
<path d="M71.96,282 V287.3" stroke="#0a0a0a" stroke-width="0.9"/>
<path d="M71.96,19.7 V14.7" stroke="#0a0a0a" stroke-width="0.9"/>
<text transform="translate(71.96,299.3) scale(0.85,1)" text-anchor="middle" font-size="9.8" class="tk">1910</text>
<path d="M105.72,282 V287.3" stroke="#0a0a0a" stroke-width="0.9"/>
<path d="M105.72,19.7 V18.5" stroke="#0a0a0a" stroke-width="0.9"/>
<text transform="translate(105.72,299.3) scale(0.85,1)" text-anchor="middle" font-size="9.8" class="tk">1920</text>
<path d="M139.48,282 V287.3" stroke="#0a0a0a" stroke-width="0.9"/>
<path d="M139.48,19.7 V18.5" stroke="#0a0a0a" stroke-width="0.9"/>
<text transform="translate(139.48,299.3) scale(0.85,1)" text-anchor="middle" font-size="9.8" class="tk">1930</text>
<path d="M173.24,282 V287.3" stroke="#0a0a0a" stroke-width="0.9"/>
<path d="M173.24,19.7 V18.5" stroke="#0a0a0a" stroke-width="0.9"/>
<text transform="translate(173.24,299.3) scale(0.85,1)" text-anchor="middle" font-size="9.8" class="tk">1940</text>
<path d="M207,282 V287.3" stroke="#0a0a0a" stroke-width="0.9"/>
<path d="M207,19.7 V18.5" stroke="#0a0a0a" stroke-width="0.9"/>
<text transform="translate(207,299.3) scale(0.85,1)" text-anchor="middle" font-size="9.8" class="tk">1950</text>
<path d="M240.76,282 V287.3" stroke="#0a0a0a" stroke-width="0.9"/>
<path d="M240.76,19.7 V18.5" stroke="#0a0a0a" stroke-width="0.9"/>
<text transform="translate(240.76,299.3) scale(0.85,1)" text-anchor="middle" font-size="9.8" class="tk">1960</text>
<path d="M274.52,282 V287.3" stroke="#0a0a0a" stroke-width="0.9"/>
<path d="M274.52,19.7 V18.5" stroke="#0a0a0a" stroke-width="0.9"/>
<text transform="translate(274.52,299.3) scale(0.85,1)" text-anchor="middle" font-size="9.8" class="tk">1970</text>
<path d="M308.28,282 V287.3" stroke="#0a0a0a" stroke-width="0.9"/>
<path d="M308.28,19.7 V18.5" stroke="#0a0a0a" stroke-width="0.9"/>
<text transform="translate(308.28,299.3) scale(0.85,1)" text-anchor="middle" font-size="9.8" class="tk">1980</text>
<path d="M342.04,282 V287.3" stroke="#0a0a0a" stroke-width="0.9"/>
<path d="M342.04,19.7 V18.5" stroke="#0a0a0a" stroke-width="0.9"/>
<text transform="translate(342.04,299.3) scale(0.85,1)" text-anchor="middle" font-size="9.8" class="tk">1990</text>
<path d="M375.8,282 V287.3" stroke="#0a0a0a" stroke-width="0.9"/>
<path d="M375.8,19.7 V18.5" stroke="#0a0a0a" stroke-width="0.9"/>
<text transform="translate(375.8,299.3) scale(0.85,1)" text-anchor="middle" font-size="9.8" class="tk">2000</text>
<path d="M409.56,282 V287.3" stroke="#0a0a0a" stroke-width="0.9"/>
<text transform="translate(409.56,299.3) scale(0.85,1)" text-anchor="middle" font-size="9.8" class="tk">2010</text>
<text transform="translate(5.9,150.9) rotate(-90) scale(1.13,1)" text-anchor="middle" font-size="7.7" class="tk">Temperature [K]</text>
<text transform="translate(44.3,10.1) scale(1.0,1)" font-size="13">(a)</text>
<line x1="52" y1="37.2" x2="83.7" y2="37.2" stroke="#ff0d0d" stroke-width="2.4"/>
<text transform="translate(93.2,38.7) scale(0.905,1)" font-size="13.4">All forcings</text>
<line x1="52" y1="53.4" x2="83.7" y2="53.4" stroke="#1a1aff" stroke-width="2.4"/>
<text transform="translate(91.6,57.8) scale(0.905,1)" font-size="13.4">GHG only</text>
<line x1="52" y1="69.0" x2="83.7" y2="69.0" stroke="#2b7a0b" stroke-width="2.4"/>
<text transform="translate(91.6,72.6) scale(0.905,1)" font-size="13.4">Natural only</text>
<line x1="52" y1="84.8" x2="83.7" y2="84.8" stroke="#ff7f0e" stroke-width="2.4"/>
<text transform="translate(91.6,88) scale(0.916,1)" font-size="13.4">Anthropogenic aerosol only</text>
<line x1="52" y1="100.5" x2="83.7" y2="100.5" stroke="#000" stroke-width="2.4"/>
<text transform="translate(92,104.3) scale(0.905,1)" font-size="13.4">HadCRUT4</text>
</g>
<g id="pb">
<rect x="465.27" y="20.9" width="320.46" height="261.7" fill="#0000e6"/>
<path d="M465.57,282.6 L465.57,115.97 L466.24,115.49 L466.92,115.08 L467.59,114.66 L468.26,114.24 L468.94,113.83 L469.61,113.42 L470.29,113.03 L470.96,112.65 L471.63,112.29 L472.31,111.93 L472.98,111.59 L473.65,111.26 L474.33,110.93 L475,110.62 L475.68,110.33 L476.35,110.08 L477.02,109.89 L477.7,109.78 L478.37,109.8 L479.05,109.96 L479.72,110.28 L480.39,110.72 L481.07,111.24 L481.74,111.82 L482.41,112.48 L483.09,113.22 L483.76,114.05 L484.44,114.93 L485.11,115.82 L485.78,116.69 L486.46,117.49 L487.13,118.21 L487.8,118.85 L488.48,119.43 L489.15,119.97 L489.83,120.47 L490.5,120.93 L491.17,121.33 L491.85,121.68 L492.52,121.96 L493.19,122.18 L493.87,122.36 L494.54,122.5 L495.22,122.6 L495.89,122.69 L496.56,122.77 L497.24,122.83 L497.91,122.9 L498.59,122.97 L499.26,123.06 L499.93,123.18 L500.61,123.32 L501.28,123.5 L501.95,123.73 L502.63,124 L503.3,124.31 L503.98,124.67 L504.65,125.05 L505.32,125.45 L506,125.86 L506.67,126.28 L507.34,126.7 L508.02,127.1 L508.69,127.48 L509.37,127.84 L510.04,128.18 L510.71,128.52 L511.39,128.86 L512.06,129.19 L512.74,129.5 L513.41,129.77 L514.08,130.01 L514.76,130.18 L515.43,130.29 L516.1,130.31 L516.78,130.23 L517.45,130.04 L518.13,129.77 L518.8,129.42 L519.47,129.03 L520.15,128.63 L520.82,128.22 L521.49,127.81 L522.17,127.37 L522.84,126.9 L523.52,126.41 L524.19,125.89 L524.86,125.36 L525.54,124.84 L526.21,124.33 L526.88,123.86 L527.56,123.42 L528.23,123.03 L528.91,122.72 L529.58,122.53 L530.25,122.49 L530.93,122.62 L531.6,122.9 L532.28,123.31 L532.95,123.82 L533.62,124.43 L534.3,125.16 L534.97,126.03 L535.64,127.04 L536.32,128.14 L536.99,129.3 L537.67,130.48 L538.34,131.63 L539.01,132.72 L539.69,133.75 L540.36,134.72 L541.03,135.66 L541.71,136.59 L542.38,137.5 L543.06,138.39 L543.73,139.25 L544.4,140.06 L545.08,140.83 L545.75,141.53 L546.42,142.18 L547.1,142.75 L547.77,143.26 L548.45,143.72 L549.12,144.13 L549.79,144.52 L550.47,144.89 L551.14,145.25 L551.82,145.63 L552.49,146.02 L553.16,146.44 L553.84,146.91 L554.51,147.43 L555.18,148.02 L555.86,148.69 L556.53,149.43 L557.21,150.25 L557.88,151.14 L558.55,152.1 L559.23,153.11 L559.9,154.19 L560.57,155.35 L561.25,156.65 L561.92,158.13 L562.6,159.79 L563.27,161.62 L563.94,163.59 L564.62,165.68 L565.29,167.87 L565.97,170.16 L566.64,172.55 L567.31,175.11 L567.99,177.83 L568.66,180.69 L569.33,183.63 L570.01,186.6 L570.68,189.55 L571.36,192.49 L572.03,195.45 L572.7,198.46 L573.38,201.49 L574.05,204.48 L574.72,207.35 L575.4,210.02 L576.07,212.44 L576.75,214.61 L577.42,216.51 L578.09,218.07 L578.77,219.14 L579.44,219.64 L580.12,219.62 L580.79,219.22 L581.46,218.58 L582.14,217.79 L582.81,216.9 L583.48,215.98 L584.16,215.11 L584.83,214.35 L585.51,213.77 L586.18,213.45 L586.85,213.46 L587.53,213.86 L588.2,214.63 L588.87,215.73 L589.55,217.16 L590.22,219.1 L590.9,221.72 L591.57,224.96 L592.24,228.64 L592.92,232.56 L593.59,236.44 L594.26,239.98 L594.94,243.15 L595.61,246.05 L596.29,248.82 L596.96,251.51 L597.63,254.14 L598.31,256.68 L598.98,258.98 L599.66,261.64 L600.33,261.64 L601.26,246.32 L602.19,233.01 L603.12,220.94 L604.05,210.17 L604.98,200.4 L605.92,191.26 L606.85,182.4 L607.78,173.77 L608.71,165.39 L609.64,157.23 L610.57,149.43 L611.5,142.36 L612.43,136.26 L613.36,130.94 L614.3,126.02 L615.23,121.09 L616.16,115.79 L617.09,109.93 L618.02,103.69 L618.95,97.45 L619.88,91.67 L620.81,86.66 L621.75,82.38 L622.68,78.57 L623.61,75.19 L624.54,72.29 L625.47,69.92 L626.4,67.99 L627.33,66.31 L628.26,64.86 L629.19,63.74 L630.13,63.1 L631.06,63.03 L631.99,63.55 L632.92,64.61 L633.85,66.12 L634.78,68 L635.71,70.23 L636.64,73.01 L637.57,76.56 L638.51,80.68 L639.44,84.93 L640.37,88.89 L641.3,92.35 L642.23,95.48 L643.16,98.45 L644.09,101.33 L645.02,104.16 L645.95,107 L646.89,109.87 L647.82,112.63 L648.75,115.06 L649.68,117.08 L650.61,118.84 L651.54,120.6 L652.47,122.46 L653.4,124.37 L654.33,126.2 L655.27,127.83 L656.2,129.17 L657.13,130.24 L658.06,131.15 L658.99,131.95 L659.92,132.67 L660.85,133.33 L661.78,133.95 L662.71,134.54 L663.65,135.09 L664.58,135.6 L665.51,136.09 L666.44,136.59 L667.37,137.12 L668.3,137.71 L669.23,138.38 L670.16,139.13 L671.09,139.96 L672.03,140.84 L672.96,141.78 L673.89,142.77 L674.82,143.8 L675.75,144.89 L676.68,146.06 L677.61,147.3 L678.54,148.59 L679.48,149.91 L680.41,151.26 L681.34,152.63 L682.27,154.05 L683.2,155.54 L684.13,157.05 L685.06,158.55 L685.99,160 L686.92,161.34 L687.86,162.58 L688.79,163.73 L689.72,164.83 L690.65,165.88 L691.58,166.91 L692.51,167.92 L693.44,168.92 L694.37,169.91 L695.3,170.86 L696.24,171.78 L697.17,172.71 L698.1,173.67 L699.03,174.68 L699.96,175.77 L700.89,176.94 L701.82,178.21 L702.75,179.55 L703.68,180.95 L704.62,182.42 L705.55,183.94 L706.48,185.53 L707.41,187.22 L708.34,189.01 L709.27,190.88 L710.2,192.81 L711.13,194.78 L712.06,196.81 L713,198.89 L713.93,200.99 L714.86,203.06 L715.79,205.13 L716.72,207.2 L717.65,209.26 L718.58,211.31 L719.51,213.33 L720.44,215.33 L721.38,217.31 L722.31,219.29 L723.24,221.29 L724.17,223.29 L725.1,225.28 L726.03,227.25 L726.96,229.17 L727.89,231.04 L728.83,232.83 L729.76,234.53 L730.69,236.12 L731.62,237.6 L732.55,238.98 L733.48,240.27 L734.41,241.5 L735.34,242.66 L736.27,243.79 L737.21,244.88 L738.14,245.95 L739.07,247.02 L740,248.08 L740.93,249.14 L741.86,250.19 L742.79,251.24 L743.72,252.29 L744.65,253.32 L745.59,254.34 L746.52,255.35 L747.45,256.34 L748.38,257.31 L749.31,258.26 L750.24,259.18 L751.17,260.08 L752.1,260.95 L753.03,261.8 L753.97,262.64 L754.9,263.45 L755.83,264.25 L756.76,265.03 L757.69,265.79 L758.62,266.52 L759.55,267.24 L760.48,267.92 L761.41,268.58 L762.35,269.22 L763.28,269.87 L764.21,270.46 L765.14,270.86 L766.07,270.94 L767,270.64 L767.93,270.03 L768.86,269.26 L769.79,268.44 L770.73,267.72 L771.66,267.12 L772.59,266.58 L773.52,266.06 L774.45,265.56 L775.38,265.1 L776.31,264.69 L777.24,264.35 L778.17,264.11 L779.11,263.98 L780.04,263.99 L780.97,264.14 L781.9,264.41 L782.83,264.76 L783.76,265.17 L784.69,265.61 L785.62,266.09 L785.62,282.6 Z" fill="#006400"/>
<path d="M465.57,282.6 L465.57,241.2 L466.13,242.04 L466.7,242.67 L467.26,243.36 L467.82,244.06 L468.39,244.75 L468.95,245.43 L469.52,246.08 L470.08,246.72 L470.64,247.34 L471.21,247.94 L471.77,248.52 L472.33,249.08 L472.9,249.62 L473.46,250.16 L474.03,250.7 L474.59,251.22 L475.15,251.75 L475.72,252.26 L476.28,252.77 L476.84,253.27 L477.41,253.76 L477.97,254.23 L478.54,254.69 L479.1,255.14 L479.66,255.58 L480.23,255.99 L480.79,256.39 L481.35,256.77 L481.92,257.13 L482.48,257.48 L483.05,257.82 L483.61,258.14 L484.17,258.47 L484.74,258.79 L485.3,259.11 L485.86,259.41 L486.43,259.71 L486.99,260 L487.56,260.27 L488.12,260.53 L488.68,260.78 L489.25,261 L489.81,261.21 L490.37,261.39 L490.94,261.56 L491.5,261.69 L492.07,261.8 L492.63,261.88 L493.19,261.91 L493.76,261.9 L494.32,261.84 L494.88,261.74 L495.45,261.6 L496.01,261.43 L496.58,261.23 L497.14,261.01 L497.7,260.77 L498.27,260.52 L498.83,260.26 L499.39,259.98 L499.96,259.67 L500.52,259.32 L501.09,258.93 L501.65,258.5 L502.21,258.03 L502.78,257.53 L503.34,256.99 L503.9,256.42 L504.47,255.83 L505.03,255.2 L505.6,254.56 L506.16,253.89 L506.72,253.21 L507.29,252.51 L507.85,251.8 L508.41,251.08 L508.98,250.34 L509.54,249.59 L510.11,248.8 L510.67,247.98 L511.23,247.11 L511.8,246.2 L512.36,245.25 L512.92,244.27 L513.49,243.26 L514.05,242.22 L514.62,241.16 L515.18,240.07 L515.74,238.97 L516.31,237.86 L516.87,236.74 L517.43,235.61 L518,234.47 L518.56,233.34 L519.13,232.2 L519.69,231.05 L520.25,229.87 L520.82,228.66 L521.38,227.41 L521.94,226.14 L522.51,224.83 L523.07,223.52 L523.64,222.19 L524.2,220.85 L524.76,219.52 L525.33,218.21 L525.89,216.9 L526.45,215.63 L527.02,214.38 L527.58,213.17 L528.15,212.01 L528.71,210.89 L529.27,209.83 L529.84,208.8 L530.4,207.8 L530.96,206.81 L531.53,205.85 L532.09,204.91 L532.66,204.01 L533.22,203.16 L533.78,202.37 L534.35,201.66 L534.91,201.03 L535.47,200.5 L536.04,200.05 L536.6,199.69 L537.17,199.38 L537.73,199.1 L538.29,198.84 L538.86,198.62 L539.42,198.42 L539.98,198.25 L540.55,198.12 L541.11,198.03 L541.68,197.97 L542.24,197.94 L542.8,197.92 L543.37,197.93 L543.93,197.95 L544.5,198 L545.06,198.06 L545.62,198.13 L546.19,198.23 L546.75,198.35 L547.31,198.51 L547.88,198.71 L548.44,198.97 L549.01,199.3 L549.57,199.69 L550.13,200.14 L550.7,200.64 L551.26,201.18 L551.82,201.74 L552.39,202.32 L552.95,202.91 L553.52,203.53 L554.08,204.18 L554.64,204.89 L555.21,205.66 L555.77,206.49 L556.33,207.37 L556.9,208.28 L557.46,209.22 L558.03,210.18 L558.59,211.16 L559.15,212.17 L559.72,213.23 L560.28,214.34 L560.84,215.5 L561.41,216.71 L561.97,217.97 L562.54,219.29 L563.1,220.66 L563.66,222.09 L564.23,223.58 L564.79,225.17 L565.35,226.86 L565.92,228.66 L566.48,230.57 L567.05,232.56 L567.61,234.62 L568.17,236.73 L568.74,238.89 L569.3,241.08 L569.86,243.3 L570.43,245.56 L570.99,247.89 L571.56,250.28 L572.12,252.74 L572.68,255.23 L573.25,257.77 L573.81,260.38 L574.37,263.08 L574.94,265.83 L575.5,268.5 L576.07,270.85 L576.63,272.69 L577.19,273.88 L577.76,274.74 L577.93,274.74 L578.03,273.38 L578.14,273.14 L578.25,272.87 L578.36,272.59 L578.47,272.28 L578.58,271.96 L578.69,271.63 L578.8,271.29 L578.91,270.93 L579.02,270.57 L579.13,270.21 L579.24,269.85 L579.34,269.49 L579.45,269.13 L579.56,268.77 L579.67,268.41 L579.78,268.06 L579.89,267.72 L580,267.38 L580.11,267.04 L580.22,266.71 L580.33,266.38 L580.44,266.06 L580.55,265.75 L580.66,265.44 L580.76,265.13 L580.87,264.83 L580.98,264.53 L581.09,264.24 L581.2,263.94 L581.31,263.65 L581.42,263.37 L581.53,263.08 L581.64,262.79 L581.75,262.51 L581.86,262.23 L581.97,261.95 L582.07,261.67 L582.18,261.39 L582.29,261.11 L582.4,260.82 L582.51,260.54 L582.62,260.26 L582.73,259.98 L582.84,259.69 L582.95,259.41 L583.06,259.12 L583.17,258.83 L583.28,258.55 L583.38,258.26 L583.49,257.97 L583.6,257.69 L583.71,257.4 L583.82,257.11 L583.93,256.83 L584.04,256.55 L584.15,256.27 L584.26,255.99 L584.37,255.71 L584.48,255.44 L584.59,255.18 L584.7,254.91 L584.8,254.66 L584.91,254.4 L585.02,254.16 L585.13,253.92 L585.24,253.68 L585.35,253.45 L585.46,253.22 L585.57,253.01 L585.68,252.79 L585.79,252.58 L585.9,252.38 L586.01,252.19 L586.11,251.99 L586.22,251.81 L586.33,251.63 L586.44,251.45 L586.55,251.29 L586.66,251.12 L586.77,250.97 L586.88,250.82 L586.99,250.67 L587.1,250.53 L587.21,250.4 L587.32,250.27 L587.43,250.15 L587.53,250.03 L587.64,249.92 L587.75,249.82 L587.86,249.72 L587.97,249.63 L588.08,249.55 L588.19,249.47 L588.3,249.39 L588.41,249.32 L588.52,249.26 L588.63,249.2 L588.74,249.15 L588.84,249.1 L588.95,249.05 L589.06,249.02 L589.17,248.98 L589.28,248.96 L589.39,248.94 L589.5,248.92 L589.61,248.92 L589.72,248.92 L589.83,248.92 L589.94,248.94 L590.05,248.96 L590.16,248.99 L590.26,249.03 L590.37,249.07 L590.48,249.13 L590.59,249.19 L590.7,249.27 L590.81,249.35 L590.92,249.44 L591.03,249.54 L591.14,249.65 L591.25,249.77 L591.36,249.9 L591.47,250.04 L591.57,250.18 L591.68,250.34 L591.79,250.5 L591.9,250.67 L592.01,250.85 L592.12,251.03 L592.23,251.23 L592.34,251.44 L592.45,251.65 L592.56,251.87 L592.67,252.11 L592.78,252.35 L592.89,252.6 L592.99,252.86 L593.1,253.13 L593.21,253.41 L593.32,253.69 L593.43,253.98 L593.54,254.29 L593.65,254.59 L593.76,254.9 L593.87,255.22 L593.98,255.54 L594.09,255.87 L594.2,256.19 L594.3,256.52 L594.41,256.85 L594.52,257.18 L594.63,257.51 L594.74,257.84 L594.85,258.17 L594.96,258.5 L595.07,258.83 L595.18,259.16 L595.29,259.5 L595.4,259.83 L595.51,260.16 L595.61,260.49 L595.72,260.82 L595.83,261.16 L595.94,261.49 L596.05,261.83 L596.16,262.17 L596.27,262.51 L596.38,262.85 L596.49,263.2 L596.6,263.54 L596.71,263.89 L596.82,264.25 L596.93,264.6 L597.03,264.96 L597.14,265.32 L597.25,265.68 L597.36,266.05 L597.47,266.43 L597.58,266.8 L597.69,267.18 L597.8,267.56 L597.91,267.95 L598.02,268.34 L598.13,268.73 L598.24,269.13 L598.34,269.52 L598.45,269.91 L598.56,270.3 L598.67,270.69 L598.78,271.06 L598.89,271.43 L599,271.79 L599.11,272.13 L599.22,272.45 L599.33,272.76 L599.44,273.04 L599.55,273.3 L599.66,274.74 L600.5,274.74 L601.43,266.13 L602.36,258.09 L603.29,250.12 L604.22,242.34 L605.15,234.67 L606.08,227.22 L607.01,220.22 L607.94,213.84 L608.87,208.11 L609.8,202.85 L610.73,197.89 L611.66,193.06 L612.59,188.23 L613.52,183.31 L614.45,178.38 L615.38,173.63 L616.31,169.25 L617.24,165.34 L618.17,161.82 L619.1,158.5 L620.03,155.35 L620.96,152.39 L621.89,149.7 L622.82,147.31 L623.75,145.3 L624.68,143.66 L625.62,142.32 L626.55,141.16 L627.48,140.17 L628.41,139.45 L629.34,139.08 L630.27,139.16 L631.2,139.68 L632.13,140.58 L633.06,141.8 L633.99,143.26 L634.92,144.91 L635.85,146.8 L636.78,148.94 L637.71,151.27 L638.64,153.68 L639.57,156.06 L640.5,158.39 L641.43,160.7 L642.36,163.01 L643.29,165.25 L644.22,167.35 L645.15,169.3 L646.08,171.13 L647.01,172.86 L647.94,174.46 L648.87,175.9 L649.8,177.18 L650.73,178.34 L651.66,179.45 L652.59,180.5 L653.52,181.47 L654.45,182.32 L655.38,183.02 L656.31,183.56 L657.24,183.99 L658.18,184.37 L659.11,184.72 L660.04,185.06 L660.97,185.38 L661.9,185.69 L662.83,185.99 L663.76,186.3 L664.69,186.6 L665.62,186.9 L666.55,187.2 L667.48,187.49 L668.41,187.77 L669.34,188.05 L670.27,188.33 L671.2,188.62 L672.13,188.92 L673.06,189.23 L673.99,189.56 L674.92,189.92 L675.85,190.3 L676.78,190.72 L677.71,191.17 L678.64,191.64 L679.57,192.12 L680.5,192.61 L681.43,193.1 L682.36,193.58 L683.29,194.05 L684.22,194.49 L685.15,194.91 L686.08,195.28 L687.01,195.62 L687.94,195.93 L688.87,196.22 L689.8,196.48 L690.74,196.73 L691.67,196.97 L692.6,197.2 L693.53,197.43 L694.46,197.67 L695.39,197.92 L696.32,198.19 L697.25,198.47 L698.18,198.77 L699.11,199.09 L700.04,199.42 L700.97,199.78 L701.9,200.15 L702.83,200.55 L703.76,200.97 L704.69,201.42 L705.62,201.91 L706.55,202.48 L707.48,203.17 L708.41,204.01 L709.34,204.98 L710.27,206.06 L711.2,207.22 L712.13,208.45 L713.06,209.71 L713.99,211.02 L714.92,212.41 L715.85,213.92 L716.78,215.51 L717.71,217.17 L718.64,218.84 L719.57,220.49 L720.5,222.09 L721.43,223.63 L722.36,225.11 L723.29,226.58 L724.23,228.03 L725.16,229.47 L726.09,230.89 L727.02,232.29 L727.95,233.68 L728.88,235.04 L729.81,236.37 L730.74,237.68 L731.67,238.96 L732.6,240.2 L733.53,241.42 L734.46,242.6 L735.39,243.77 L736.32,244.93 L737.25,246.09 L738.18,247.25 L739.11,248.41 L740.04,249.57 L740.97,250.72 L741.9,251.86 L742.83,253 L743.76,254.14 L744.69,255.28 L745.62,256.41 L746.55,257.56 L747.48,258.7 L748.41,259.86 L749.34,261.03 L750.27,262.2 L751.2,263.4 L752.13,264.62 L753.06,265.87 L753.99,267.18 L754.92,268.52 L755.85,269.87 L756.79,271.2 L757.72,272.5 L758.65,273.74 L759.58,274.92 L760.51,276.07 L761.44,277.19 L762.37,278.24 L763.3,279.21 L764.23,280.06 L765.16,280.8 L766.09,281.4 L767.02,281.68 L767.95,281.51 L768.88,281.01 L769.81,280.36 L770.74,279.73 L771.67,279.19 L772.6,278.7 L773.53,278.23 L774.46,277.76 L775.39,277.33 L776.32,276.93 L777.25,276.59 L778.18,276.3 L779.11,276.11 L780.04,276.03 L780.97,276.11 L781.9,276.31 L782.83,276.62 L783.76,277.01 L784.69,277.43 L785.62,277.88 L785.62,282.6 Z" fill="#ee7600"/>
<clipPath id="clb1"><path d="M465.57,115.97 L466.24,115.49 L466.92,115.08 L467.59,114.66 L468.26,114.24 L468.94,113.83 L469.61,113.42 L470.29,113.03 L470.96,112.65 L471.63,112.29 L472.31,111.93 L472.98,111.59 L473.65,111.26 L474.33,110.93 L475,110.62 L475.68,110.33 L476.35,110.08 L477.02,109.89 L477.7,109.78 L478.37,109.8 L479.05,109.96 L479.72,110.28 L480.39,110.72 L481.07,111.24 L481.74,111.82 L482.41,112.48 L483.09,113.22 L483.76,114.05 L484.44,114.93 L485.11,115.82 L485.78,116.69 L486.46,117.49 L487.13,118.21 L487.8,118.85 L488.48,119.43 L489.15,119.97 L489.83,120.47 L490.5,120.93 L491.17,121.33 L491.85,121.68 L492.52,121.96 L493.19,122.18 L493.87,122.36 L494.54,122.5 L495.22,122.6 L495.89,122.69 L496.56,122.77 L497.24,122.83 L497.91,122.9 L498.59,122.97 L499.26,123.06 L499.93,123.18 L500.61,123.32 L501.28,123.5 L501.95,123.73 L502.63,124 L503.3,124.31 L503.98,124.67 L504.65,125.05 L505.32,125.45 L506,125.86 L506.67,126.28 L507.34,126.7 L508.02,127.1 L508.69,127.48 L509.37,127.84 L510.04,128.18 L510.71,128.52 L511.39,128.86 L512.06,129.19 L512.74,129.5 L513.41,129.77 L514.08,130.01 L514.76,130.18 L515.43,130.29 L516.1,130.31 L516.78,130.23 L517.45,130.04 L518.13,129.77 L518.8,129.42 L519.47,129.03 L520.15,128.63 L520.82,128.22 L521.49,127.81 L522.17,127.37 L522.84,126.9 L523.52,126.41 L524.19,125.89 L524.86,125.36 L525.54,124.84 L526.21,124.33 L526.88,123.86 L527.56,123.42 L528.23,123.03 L528.91,122.72 L529.58,122.53 L530.25,122.49 L530.93,122.62 L531.6,122.9 L532.28,123.31 L532.95,123.82 L533.62,124.43 L534.3,125.16 L534.97,126.03 L535.64,127.04 L536.32,128.14 L536.99,129.3 L537.67,130.48 L538.34,131.63 L539.01,132.72 L539.69,133.75 L540.36,134.72 L541.03,135.66 L541.71,136.59 L542.38,137.5 L543.06,138.39 L543.73,139.25 L544.4,140.06 L545.08,140.83 L545.75,141.53 L546.42,142.18 L547.1,142.75 L547.77,143.26 L548.45,143.72 L549.12,144.13 L549.79,144.52 L550.47,144.89 L551.14,145.25 L551.82,145.63 L552.49,146.02 L553.16,146.44 L553.84,146.91 L554.51,147.43 L555.18,148.02 L555.86,148.69 L556.53,149.43 L557.21,150.25 L557.88,151.14 L558.55,152.1 L559.23,153.11 L559.9,154.19 L560.57,155.35 L561.25,156.65 L561.92,158.13 L562.6,159.79 L563.27,161.62 L563.94,163.59 L564.62,165.68 L565.29,167.87 L565.97,170.16 L566.64,172.55 L567.31,175.11 L567.99,177.83 L568.66,180.69 L569.33,183.63 L570.01,186.6 L570.68,189.55 L571.36,192.49 L572.03,195.45 L572.7,198.46 L573.38,201.49 L574.05,204.48 L574.72,207.35 L575.4,210.02 L576.07,212.44 L576.75,214.61 L577.42,216.51 L578.09,218.07 L578.77,219.14 L579.44,219.64 L580.12,219.62 L580.79,219.22 L581.46,218.58 L582.14,217.79 L582.81,216.9 L583.48,215.98 L584.16,215.11 L584.83,214.35 L585.51,213.77 L586.18,213.45 L586.85,213.46 L587.53,213.86 L588.2,214.63 L588.87,215.73 L589.55,217.16 L590.22,219.1 L590.9,221.72 L591.57,224.96 L592.24,228.64 L592.92,232.56 L593.59,236.44 L594.26,239.98 L594.94,243.15 L595.61,246.05 L596.29,248.82 L596.96,251.51 L597.63,254.14 L598.31,256.68 L598.98,258.98 L599.66,261.64 L599.66,274.74 L599.55,273.3 L599.44,273.04 L599.33,272.76 L599.22,272.45 L599.11,272.13 L599,271.79 L598.89,271.43 L598.78,271.06 L598.67,270.69 L598.56,270.3 L598.45,269.91 L598.34,269.52 L598.24,269.13 L598.13,268.73 L598.02,268.34 L597.91,267.95 L597.8,267.56 L597.69,267.18 L597.58,266.8 L597.47,266.43 L597.36,266.05 L597.25,265.68 L597.14,265.32 L597.03,264.96 L596.93,264.6 L596.82,264.25 L596.71,263.89 L596.6,263.54 L596.49,263.2 L596.38,262.85 L596.27,262.51 L596.16,262.17 L596.05,261.83 L595.94,261.49 L595.83,261.16 L595.72,260.82 L595.61,260.49 L595.51,260.16 L595.4,259.83 L595.29,259.5 L595.18,259.16 L595.07,258.83 L594.96,258.5 L594.85,258.17 L594.74,257.84 L594.63,257.51 L594.52,257.18 L594.41,256.85 L594.3,256.52 L594.2,256.19 L594.09,255.87 L593.98,255.54 L593.87,255.22 L593.76,254.9 L593.65,254.59 L593.54,254.29 L593.43,253.98 L593.32,253.69 L593.21,253.41 L593.1,253.13 L592.99,252.86 L592.89,252.6 L592.78,252.35 L592.67,252.11 L592.56,251.87 L592.45,251.65 L592.34,251.44 L592.23,251.23 L592.12,251.03 L592.01,250.85 L591.9,250.67 L591.79,250.5 L591.68,250.34 L591.57,250.18 L591.47,250.04 L591.36,249.9 L591.25,249.77 L591.14,249.65 L591.03,249.54 L590.92,249.44 L590.81,249.35 L590.7,249.27 L590.59,249.19 L590.48,249.13 L590.37,249.07 L590.26,249.03 L590.16,248.99 L590.05,248.96 L589.94,248.94 L589.83,248.92 L589.72,248.92 L589.61,248.92 L589.5,248.92 L589.39,248.94 L589.28,248.96 L589.17,248.98 L589.06,249.02 L588.95,249.05 L588.84,249.1 L588.74,249.15 L588.63,249.2 L588.52,249.26 L588.41,249.32 L588.3,249.39 L588.19,249.47 L588.08,249.55 L587.97,249.63 L587.86,249.72 L587.75,249.82 L587.64,249.92 L587.53,250.03 L587.43,250.15 L587.32,250.27 L587.21,250.4 L587.1,250.53 L586.99,250.67 L586.88,250.82 L586.77,250.97 L586.66,251.12 L586.55,251.29 L586.44,251.45 L586.33,251.63 L586.22,251.81 L586.11,251.99 L586.01,252.19 L585.9,252.38 L585.79,252.58 L585.68,252.79 L585.57,253.01 L585.46,253.22 L585.35,253.45 L585.24,253.68 L585.13,253.92 L585.02,254.16 L584.91,254.4 L584.8,254.66 L584.7,254.91 L584.59,255.18 L584.48,255.44 L584.37,255.71 L584.26,255.99 L584.15,256.27 L584.04,256.55 L583.93,256.83 L583.82,257.11 L583.71,257.4 L583.6,257.69 L583.49,257.97 L583.38,258.26 L583.28,258.55 L583.17,258.83 L583.06,259.12 L582.95,259.41 L582.84,259.69 L582.73,259.98 L582.62,260.26 L582.51,260.54 L582.4,260.82 L582.29,261.11 L582.18,261.39 L582.07,261.67 L581.97,261.95 L581.86,262.23 L581.75,262.51 L581.64,262.79 L581.53,263.08 L581.42,263.37 L581.31,263.65 L581.2,263.94 L581.09,264.24 L580.98,264.53 L580.87,264.83 L580.76,265.13 L580.66,265.44 L580.55,265.75 L580.44,266.06 L580.33,266.38 L580.22,266.71 L580.11,267.04 L580,267.38 L579.89,267.72 L579.78,268.06 L579.67,268.41 L579.56,268.77 L579.45,269.13 L579.34,269.49 L579.24,269.85 L579.13,270.21 L579.02,270.57 L578.91,270.93 L578.8,271.29 L578.69,271.63 L578.58,271.96 L578.47,272.28 L578.36,272.59 L578.25,272.87 L578.14,273.14 L578.03,273.38 L577.93,274.74 L577.76,274.74 L577.19,273.88 L576.63,272.69 L576.07,270.85 L575.5,268.5 L574.94,265.83 L574.37,263.08 L573.81,260.38 L573.25,257.77 L572.68,255.23 L572.12,252.74 L571.56,250.28 L570.99,247.89 L570.43,245.56 L569.86,243.3 L569.3,241.08 L568.74,238.89 L568.17,236.73 L567.61,234.62 L567.05,232.56 L566.48,230.57 L565.92,228.66 L565.35,226.86 L564.79,225.17 L564.23,223.58 L563.66,222.09 L563.1,220.66 L562.54,219.29 L561.97,217.97 L561.41,216.71 L560.84,215.5 L560.28,214.34 L559.72,213.23 L559.15,212.17 L558.59,211.16 L558.03,210.18 L557.46,209.22 L556.9,208.28 L556.33,207.37 L555.77,206.49 L555.21,205.66 L554.64,204.89 L554.08,204.18 L553.52,203.53 L552.95,202.91 L552.39,202.32 L551.82,201.74 L551.26,201.18 L550.7,200.64 L550.13,200.14 L549.57,199.69 L549.01,199.3 L548.44,198.97 L547.88,198.71 L547.31,198.51 L546.75,198.35 L546.19,198.23 L545.62,198.13 L545.06,198.06 L544.5,198 L543.93,197.95 L543.37,197.93 L542.8,197.92 L542.24,197.94 L541.68,197.97 L541.11,198.03 L540.55,198.12 L539.98,198.25 L539.42,198.42 L538.86,198.62 L538.29,198.84 L537.73,199.1 L537.17,199.38 L536.6,199.69 L536.04,200.05 L535.47,200.5 L534.91,201.03 L534.35,201.66 L533.78,202.37 L533.22,203.16 L532.66,204.01 L532.09,204.91 L531.53,205.85 L530.96,206.81 L530.4,207.8 L529.84,208.8 L529.27,209.83 L528.71,210.89 L528.15,212.01 L527.58,213.17 L527.02,214.38 L526.45,215.63 L525.89,216.9 L525.33,218.21 L524.76,219.52 L524.2,220.85 L523.64,222.19 L523.07,223.52 L522.51,224.83 L521.94,226.14 L521.38,227.41 L520.82,228.66 L520.25,229.87 L519.69,231.05 L519.13,232.2 L518.56,233.34 L518,234.47 L517.43,235.61 L516.87,236.74 L516.31,237.86 L515.74,238.97 L515.18,240.07 L514.62,241.16 L514.05,242.22 L513.49,243.26 L512.92,244.27 L512.36,245.25 L511.8,246.2 L511.23,247.11 L510.67,247.98 L510.11,248.8 L509.54,249.59 L508.98,250.34 L508.41,251.08 L507.85,251.8 L507.29,252.51 L506.72,253.21 L506.16,253.89 L505.6,254.56 L505.03,255.2 L504.47,255.83 L503.9,256.42 L503.34,256.99 L502.78,257.53 L502.21,258.03 L501.65,258.5 L501.09,258.93 L500.52,259.32 L499.96,259.67 L499.39,259.98 L498.83,260.26 L498.27,260.52 L497.7,260.77 L497.14,261.01 L496.58,261.23 L496.01,261.43 L495.45,261.6 L494.88,261.74 L494.32,261.84 L493.76,261.9 L493.19,261.91 L492.63,261.88 L492.07,261.8 L491.5,261.69 L490.94,261.56 L490.37,261.39 L489.81,261.21 L489.25,261 L488.68,260.78 L488.12,260.53 L487.56,260.27 L486.99,260 L486.43,259.71 L485.86,259.41 L485.3,259.11 L484.74,258.79 L484.17,258.47 L483.61,258.14 L483.05,257.82 L482.48,257.48 L481.92,257.13 L481.35,256.77 L480.79,256.39 L480.23,255.99 L479.66,255.58 L479.1,255.14 L478.54,254.69 L477.97,254.23 L477.41,253.76 L476.84,253.27 L476.28,252.77 L475.72,252.26 L475.15,251.75 L474.59,251.22 L474.03,250.7 L473.46,250.16 L472.9,249.62 L472.33,249.08 L471.77,248.52 L471.21,247.94 L470.64,247.34 L470.08,246.72 L469.52,246.08 L468.95,245.43 L468.39,244.75 L467.82,244.06 L467.26,243.36 L466.7,242.67 L466.13,242.04 L465.57,241.2 Z"/></clipPath>
<path d="M462.57,280.7 H600.66 M462.57,275.43 H600.66 M462.57,270.16 H600.66 M462.57,264.89 H600.66 M462.57,259.62 H600.66 M462.57,254.35 H600.66 M462.57,249.08 H600.66 M462.57,243.81 H600.66 M462.57,238.54 H600.66 M462.57,233.27 H600.66 M462.57,228 H600.66 M462.57,222.73 H600.66 M462.57,217.46 H600.66 M462.57,212.19 H600.66 M462.57,206.92 H600.66 M462.57,201.65 H600.66 M462.57,196.38 H600.66 M462.57,191.11 H600.66 M462.57,185.84 H600.66 M462.57,180.57 H600.66 M462.57,175.3 H600.66 M462.57,170.03 H600.66 M462.57,164.76 H600.66 M462.57,159.49 H600.66 M462.57,154.22 H600.66 M462.57,148.95 H600.66 M462.57,143.68 H600.66 M462.57,138.41 H600.66 M462.57,133.14 H600.66 M462.57,127.87 H600.66 M462.57,122.6 H600.66 M462.57,117.33 H600.66 M462.57,112.06 H600.66 M462.57,106.79 H600.66 M462.57,101.52 H600.66 M462.57,96.25 H600.66 M462.57,90.98 H600.66 M462.57,85.71 H600.66 M462.57,80.44 H600.66 M462.57,75.17 H600.66 M462.57,69.9 H600.66 M462.57,64.63 H600.66 M462.57,59.36 H600.66 M462.57,54.09 H600.66 M462.57,48.82 H600.66 M462.57,43.55 H600.66 M462.57,38.28 H600.66 M462.57,33.01 H600.66 M462.57,27.74 H600.66 M462.57,22.47 H600.66" stroke="#000" stroke-width="0.78" clip-path="url(#clb1)"/>
<clipPath id="clb2"><path d="M577.93,282.6 L577.93,274.74 L578.03,273.38 L578.14,273.14 L578.25,272.87 L578.36,272.59 L578.47,272.28 L578.58,271.96 L578.69,271.63 L578.8,271.29 L578.91,270.93 L579.02,270.57 L579.13,270.21 L579.24,269.85 L579.34,269.49 L579.45,269.13 L579.56,268.77 L579.67,268.41 L579.78,268.06 L579.89,267.72 L580,267.38 L580.11,267.04 L580.22,266.71 L580.33,266.38 L580.44,266.06 L580.55,265.75 L580.66,265.44 L580.76,265.13 L580.87,264.83 L580.98,264.53 L581.09,264.24 L581.2,263.94 L581.31,263.65 L581.42,263.37 L581.53,263.08 L581.64,262.79 L581.75,262.51 L581.86,262.23 L581.97,261.95 L582.07,261.67 L582.18,261.39 L582.29,261.11 L582.4,260.82 L582.51,260.54 L582.62,260.26 L582.73,259.98 L582.84,259.69 L582.95,259.41 L583.06,259.12 L583.17,258.83 L583.28,258.55 L583.38,258.26 L583.49,257.97 L583.6,257.69 L583.71,257.4 L583.82,257.11 L583.93,256.83 L584.04,256.55 L584.15,256.27 L584.26,255.99 L584.37,255.71 L584.48,255.44 L584.59,255.18 L584.7,254.91 L584.8,254.66 L584.91,254.4 L585.02,254.16 L585.13,253.92 L585.24,253.68 L585.35,253.45 L585.46,253.22 L585.57,253.01 L585.68,252.79 L585.79,252.58 L585.9,252.38 L586.01,252.19 L586.11,251.99 L586.22,251.81 L586.33,251.63 L586.44,251.45 L586.55,251.29 L586.66,251.12 L586.77,250.97 L586.88,250.82 L586.99,250.67 L587.1,250.53 L587.21,250.4 L587.32,250.27 L587.43,250.15 L587.53,250.03 L587.64,249.92 L587.75,249.82 L587.86,249.72 L587.97,249.63 L588.08,249.55 L588.19,249.47 L588.3,249.39 L588.41,249.32 L588.52,249.26 L588.63,249.2 L588.74,249.15 L588.84,249.1 L588.95,249.05 L589.06,249.02 L589.17,248.98 L589.28,248.96 L589.39,248.94 L589.5,248.92 L589.61,248.92 L589.72,248.92 L589.83,248.92 L589.94,248.94 L590.05,248.96 L590.16,248.99 L590.26,249.03 L590.37,249.07 L590.48,249.13 L590.59,249.19 L590.7,249.27 L590.81,249.35 L590.92,249.44 L591.03,249.54 L591.14,249.65 L591.25,249.77 L591.36,249.9 L591.47,250.04 L591.57,250.18 L591.68,250.34 L591.79,250.5 L591.9,250.67 L592.01,250.85 L592.12,251.03 L592.23,251.23 L592.34,251.44 L592.45,251.65 L592.56,251.87 L592.67,252.11 L592.78,252.35 L592.89,252.6 L592.99,252.86 L593.1,253.13 L593.21,253.41 L593.32,253.69 L593.43,253.98 L593.54,254.29 L593.65,254.59 L593.76,254.9 L593.87,255.22 L593.98,255.54 L594.09,255.87 L594.2,256.19 L594.3,256.52 L594.41,256.85 L594.52,257.18 L594.63,257.51 L594.74,257.84 L594.85,258.17 L594.96,258.5 L595.07,258.83 L595.18,259.16 L595.29,259.5 L595.4,259.83 L595.51,260.16 L595.61,260.49 L595.72,260.82 L595.83,261.16 L595.94,261.49 L596.05,261.83 L596.16,262.17 L596.27,262.51 L596.38,262.85 L596.49,263.2 L596.6,263.54 L596.71,263.89 L596.82,264.25 L596.93,264.6 L597.03,264.96 L597.14,265.32 L597.25,265.68 L597.36,266.05 L597.47,266.43 L597.58,266.8 L597.69,267.18 L597.8,267.56 L597.91,267.95 L598.02,268.34 L598.13,268.73 L598.24,269.13 L598.34,269.52 L598.45,269.91 L598.56,270.3 L598.67,270.69 L598.78,271.06 L598.89,271.43 L599,271.79 L599.11,272.13 L599.22,272.45 L599.33,272.76 L599.44,273.04 L599.55,273.3 L599.66,274.74 L599.66,282.6 Z"/></clipPath>
<path d="M574.93,280.7 H600.66 M574.93,275.43 H600.66 M574.93,270.16 H600.66 M574.93,264.89 H600.66 M574.93,259.62 H600.66 M574.93,254.35 H600.66 M574.93,249.08 H600.66 M574.93,243.81 H600.66 M574.93,238.54 H600.66 M574.93,233.27 H600.66 M574.93,228 H600.66 M574.93,222.73 H600.66 M574.93,217.46 H600.66 M574.93,212.19 H600.66 M574.93,206.92 H600.66 M574.93,201.65 H600.66 M574.93,196.38 H600.66 M574.93,191.11 H600.66 M574.93,185.84 H600.66 M574.93,180.57 H600.66 M574.93,175.3 H600.66 M574.93,170.03 H600.66 M574.93,164.76 H600.66 M574.93,159.49 H600.66 M574.93,154.22 H600.66 M574.93,148.95 H600.66 M574.93,143.68 H600.66 M574.93,138.41 H600.66 M574.93,133.14 H600.66 M574.93,127.87 H600.66 M574.93,122.6 H600.66 M574.93,117.33 H600.66 M574.93,112.06 H600.66 M574.93,106.79 H600.66 M574.93,101.52 H600.66 M574.93,96.25 H600.66 M574.93,90.98 H600.66 M574.93,85.71 H600.66 M574.93,80.44 H600.66 M574.93,75.17 H600.66 M574.93,69.9 H600.66 M574.93,64.63 H600.66 M574.93,59.36 H600.66 M574.93,54.09 H600.66 M574.93,48.82 H600.66 M574.93,43.55 H600.66 M574.93,38.28 H600.66 M574.93,33.01 H600.66 M574.93,27.74 H600.66 M574.93,22.47 H600.66" stroke="#000" stroke-width="0.78" clip-path="url(#clb2)"/>
<clipPath id="clb3"><path d="M728.83,232.83 L729.76,234.53 L730.69,236.12 L731.62,237.6 L732.55,238.98 L733.48,240.27 L734.41,241.5 L735.34,242.66 L736.27,243.79 L737.21,244.88 L738.14,245.95 L739.07,247.02 L740,248.08 L740.93,249.14 L741.86,250.19 L742.79,251.24 L743.72,252.29 L744.65,253.32 L745.59,254.34 L746.52,255.35 L747.45,256.34 L748.38,257.31 L749.31,258.26 L750.24,259.18 L751.17,260.08 L752.1,260.95 L753.03,261.8 L753.97,262.64 L754.9,263.45 L755.83,264.25 L756.76,265.03 L757.69,265.79 L758.62,266.52 L759.55,267.24 L760.48,267.92 L761.41,268.58 L762.35,269.22 L763.28,269.87 L764.21,270.46 L765.14,270.86 L766.07,270.94 L767,270.64 L767.93,270.03 L768.86,269.26 L769.79,268.44 L770.73,267.72 L771.66,267.12 L772.59,266.58 L773.52,266.06 L774.45,265.56 L775.38,265.1 L776.31,264.69 L777.24,264.35 L778.17,264.11 L779.11,263.98 L780.04,263.99 L780.97,264.14 L781.9,264.41 L782.83,264.76 L783.76,265.17 L784.69,265.61 L785.62,266.09 L785.62,277.88 L784.69,277.43 L783.76,277.01 L782.83,276.62 L781.9,276.31 L780.97,276.11 L780.04,276.03 L779.11,276.11 L778.18,276.3 L777.25,276.59 L776.32,276.93 L775.39,277.33 L774.46,277.76 L773.53,278.23 L772.6,278.7 L771.67,279.19 L770.74,279.73 L769.81,280.36 L768.88,281.01 L767.95,281.51 L767.02,281.68 L766.09,281.4 L765.16,280.8 L764.23,280.06 L763.3,279.21 L762.37,278.24 L761.44,277.19 L760.51,276.07 L759.58,274.92 L758.65,273.74 L757.72,272.5 L756.79,271.2 L755.85,269.87 L754.92,268.52 L753.99,267.18 L753.06,265.87 L752.13,264.62 L751.2,263.4 L750.27,262.2 L749.34,261.03 L748.41,259.86 L747.48,258.7 L746.55,257.56 L745.62,256.41 L744.69,255.28 L743.76,254.14 L742.83,253 L741.9,251.86 L740.97,250.72 L740.04,249.57 L739.11,248.41 L738.18,247.25 L737.25,246.09 L736.32,244.93 L735.39,243.77 L734.46,242.6 L733.53,241.42 L732.6,240.2 L731.67,238.96 L730.74,237.68 L729.81,236.37 L728.88,235.04 Z"/></clipPath>
<path d="M725.35,280.7 H786.62 M725.35,275.43 H786.62 M725.35,270.16 H786.62 M725.35,264.89 H786.62 M725.35,259.62 H786.62 M725.35,254.35 H786.62 M725.35,249.08 H786.62 M725.35,243.81 H786.62 M725.35,238.54 H786.62 M725.35,233.27 H786.62 M725.35,228 H786.62 M725.35,222.73 H786.62 M725.35,217.46 H786.62 M725.35,212.19 H786.62 M725.35,206.92 H786.62 M725.35,201.65 H786.62 M725.35,196.38 H786.62 M725.35,191.11 H786.62 M725.35,185.84 H786.62 M725.35,180.57 H786.62 M725.35,175.3 H786.62 M725.35,170.03 H786.62 M725.35,164.76 H786.62 M725.35,159.49 H786.62 M725.35,154.22 H786.62 M725.35,148.95 H786.62 M725.35,143.68 H786.62 M725.35,138.41 H786.62 M725.35,133.14 H786.62 M725.35,127.87 H786.62 M725.35,122.6 H786.62 M725.35,117.33 H786.62 M725.35,112.06 H786.62 M725.35,106.79 H786.62 M725.35,101.52 H786.62 M725.35,96.25 H786.62 M725.35,90.98 H786.62 M725.35,85.71 H786.62 M725.35,80.44 H786.62 M725.35,75.17 H786.62 M725.35,69.9 H786.62 M725.35,64.63 H786.62 M725.35,59.36 H786.62 M725.35,54.09 H786.62 M725.35,48.82 H786.62 M725.35,43.55 H786.62 M725.35,38.28 H786.62 M725.35,33.01 H786.62 M725.35,27.74 H786.62 M725.35,22.47 H786.62" stroke="#000" stroke-width="0.78" clip-path="url(#clb3)"/>
<clipPath id="clb4"><path d="M767.95,282.6 L767.95,281.51 L768.88,281.01 L769.81,280.36 L770.74,279.73 L771.67,279.19 L772.6,278.7 L773.53,278.23 L774.46,277.76 L775.39,277.33 L776.32,276.93 L777.25,276.59 L778.18,276.3 L779.11,276.11 L780.04,276.03 L780.97,276.11 L781.9,276.31 L782.83,276.62 L783.76,277.01 L784.69,277.43 L785.62,277.88 L785.62,282.6 Z"/></clipPath>
<path d="M764.43,280.7 H786.62 M764.43,275.43 H786.62 M764.43,270.16 H786.62 M764.43,264.89 H786.62 M764.43,259.62 H786.62 M764.43,254.35 H786.62 M764.43,249.08 H786.62 M764.43,243.81 H786.62 M764.43,238.54 H786.62 M764.43,233.27 H786.62 M764.43,228 H786.62 M764.43,222.73 H786.62 M764.43,217.46 H786.62 M764.43,212.19 H786.62 M764.43,206.92 H786.62 M764.43,201.65 H786.62 M764.43,196.38 H786.62 M764.43,191.11 H786.62 M764.43,185.84 H786.62 M764.43,180.57 H786.62 M764.43,175.3 H786.62 M764.43,170.03 H786.62 M764.43,164.76 H786.62 M764.43,159.49 H786.62 M764.43,154.22 H786.62 M764.43,148.95 H786.62 M764.43,143.68 H786.62 M764.43,138.41 H786.62 M764.43,133.14 H786.62 M764.43,127.87 H786.62 M764.43,122.6 H786.62 M764.43,117.33 H786.62 M764.43,112.06 H786.62 M764.43,106.79 H786.62 M764.43,101.52 H786.62 M764.43,96.25 H786.62 M764.43,90.98 H786.62 M764.43,85.71 H786.62 M764.43,80.44 H786.62 M764.43,75.17 H786.62 M764.43,69.9 H786.62 M764.43,64.63 H786.62 M764.43,59.36 H786.62 M764.43,54.09 H786.62 M764.43,48.82 H786.62 M764.43,43.55 H786.62 M764.43,38.28 H786.62 M764.43,33.01 H786.62 M764.43,27.74 H786.62 M764.43,22.47 H786.62" stroke="#000" stroke-width="0.78" clip-path="url(#clb4)"/>
<path d="M462.2,20.3 H832.9 V282.6 H462.2 Z" fill="none" stroke="#0a0a0a" stroke-width="0.9"/>
<rect x="785.72" y="18.8" width="25.28" height="3" fill="#fff"/>
<rect x="785.72" y="281.6" width="23.28" height="2" fill="#fff"/>
<path d="M785.72,282.6 H809" stroke="#f3c89a" stroke-width="0.8"/>
<path d="M456.8,282.6 H462.2 M832.9,282.6 H838.5" stroke="#0a0a0a" stroke-width="0.9"/>
<text transform="translate(453.4,283.9) scale(0.85,1)" text-anchor="end" font-size="9.8" class="tk">0</text>
<path d="M456.8,256.4 H462.2 M832.9,256.4 H838.5" stroke="#0a0a0a" stroke-width="0.9"/>
<text transform="translate(453.4,259.7) scale(0.85,1)" text-anchor="end" font-size="9.8" class="tk">10</text>
<path d="M456.8,230.2 H462.2 M832.9,230.2 H838.5" stroke="#0a0a0a" stroke-width="0.9"/>
<text transform="translate(453.4,233.5) scale(0.85,1)" text-anchor="end" font-size="9.8" class="tk">20</text>
<path d="M456.8,204 H462.2 M832.9,204 H838.5" stroke="#0a0a0a" stroke-width="0.9"/>
<text transform="translate(453.4,207.3) scale(0.85,1)" text-anchor="end" font-size="9.8" class="tk">30</text>
<path d="M456.8,177.8 H462.2 M832.9,177.8 H838.5" stroke="#0a0a0a" stroke-width="0.9"/>
<text transform="translate(453.4,181.1) scale(0.85,1)" text-anchor="end" font-size="9.8" class="tk">40</text>
<path d="M456.8,151.6 H462.2 M832.9,151.6 H838.5" stroke="#0a0a0a" stroke-width="0.9"/>
<text transform="translate(453.4,154.9) scale(0.85,1)" text-anchor="end" font-size="9.8" class="tk">50</text>
<path d="M456.8,125.4 H462.2 M832.9,125.4 H838.5" stroke="#0a0a0a" stroke-width="0.9"/>
<text transform="translate(453.4,128.7) scale(0.85,1)" text-anchor="end" font-size="9.8" class="tk">60</text>
<path d="M456.8,99.2 H462.2 M832.9,99.2 H838.5" stroke="#0a0a0a" stroke-width="0.9"/>
<text transform="translate(453.4,102.5) scale(0.85,1)" text-anchor="end" font-size="9.8" class="tk">70</text>
<path d="M456.8,73 H462.2 M832.9,73 H838.5" stroke="#0a0a0a" stroke-width="0.9"/>
<text transform="translate(453.4,76.3) scale(0.85,1)" text-anchor="end" font-size="9.8" class="tk">80</text>
<path d="M456.8,46.8 H462.2 M832.9,46.8 H838.5" stroke="#0a0a0a" stroke-width="0.9"/>
<text transform="translate(453.4,50.1) scale(0.85,1)" text-anchor="end" font-size="9.8" class="tk">90</text>
<path d="M456.8,20.6 H462.2 M832.9,20.6 H838.5" stroke="#0a0a0a" stroke-width="0.9"/>
<text transform="translate(453.4,26.3) scale(0.85,1)" text-anchor="end" font-size="9.8" class="tk">100</text>
<path d="M462.2,282.6 V287.9" stroke="#0a0a0a" stroke-width="0.9"/>
<path d="M462.2,20.3 V18.5" stroke="#0a0a0a" stroke-width="0.9"/>
<text transform="translate(462.2,299.5) scale(0.85,1)" text-anchor="middle" font-size="9.8" class="tk">1900</text>
<path d="M495.89,282.6 V287.9" stroke="#0a0a0a" stroke-width="0.9"/>
<path d="M495.89,20.3 V18.5" stroke="#0a0a0a" stroke-width="0.9"/>
<text transform="translate(495.89,299.5) scale(0.85,1)" text-anchor="middle" font-size="9.8" class="tk">1910</text>
<path d="M529.58,282.6 V287.9" stroke="#0a0a0a" stroke-width="0.9"/>
<path d="M529.58,20.3 V18.5" stroke="#0a0a0a" stroke-width="0.9"/>
<text transform="translate(529.58,299.5) scale(0.85,1)" text-anchor="middle" font-size="9.8" class="tk">1920</text>
<path d="M563.27,282.6 V287.9" stroke="#0a0a0a" stroke-width="0.9"/>
<path d="M563.27,20.3 V18.5" stroke="#0a0a0a" stroke-width="0.9"/>
<text transform="translate(563.27,299.5) scale(0.85,1)" text-anchor="middle" font-size="9.8" class="tk">1930</text>
<path d="M596.96,282.6 V287.9" stroke="#0a0a0a" stroke-width="0.9"/>
<path d="M596.96,20.3 V18.5" stroke="#0a0a0a" stroke-width="0.9"/>
<text transform="translate(596.96,299.5) scale(0.85,1)" text-anchor="middle" font-size="9.8" class="tk">1940</text>
<path d="M630.65,282.6 V287.9" stroke="#0a0a0a" stroke-width="0.9"/>
<path d="M630.65,20.3 V18.5" stroke="#0a0a0a" stroke-width="0.9"/>
<text transform="translate(630.65,299.5) scale(0.85,1)" text-anchor="middle" font-size="9.8" class="tk">1950</text>
<path d="M664.34,282.6 V287.9" stroke="#0a0a0a" stroke-width="0.9"/>
<path d="M664.34,20.3 V18.5" stroke="#0a0a0a" stroke-width="0.9"/>
<text transform="translate(664.34,299.5) scale(0.85,1)" text-anchor="middle" font-size="9.8" class="tk">1960</text>
<path d="M698.03,282.6 V287.9" stroke="#0a0a0a" stroke-width="0.9"/>
<path d="M698.03,20.3 V18.5" stroke="#0a0a0a" stroke-width="0.9"/>
<text transform="translate(698.03,299.5) scale(0.85,1)" text-anchor="middle" font-size="9.8" class="tk">1970</text>
<path d="M731.72,282.6 V287.9" stroke="#0a0a0a" stroke-width="0.9"/>
<path d="M731.72,20.3 V18.5" stroke="#0a0a0a" stroke-width="0.9"/>
<text transform="translate(731.72,299.5) scale(0.85,1)" text-anchor="middle" font-size="9.8" class="tk">1980</text>
<path d="M765.41,282.6 V287.9" stroke="#0a0a0a" stroke-width="0.9"/>
<path d="M765.41,20.3 V18.5" stroke="#0a0a0a" stroke-width="0.9"/>
<text transform="translate(765.41,299.5) scale(0.85,1)" text-anchor="middle" font-size="9.8" class="tk">1990</text>
<path d="M799.1,282.6 V287.9" stroke="#0a0a0a" stroke-width="0.9"/>
<path d="M799.1,20.3 V15.3" stroke="#0a0a0a" stroke-width="0.9"/>
<text transform="translate(799.1,299.5) scale(0.85,1)" text-anchor="middle" font-size="9.8" class="tk">2000</text>
<path d="M832.79,282.6 V287.9" stroke="#0a0a0a" stroke-width="0.9"/>
<path d="M832.79,20.3 V15.3" stroke="#0a0a0a" stroke-width="0.9"/>
<text transform="translate(832.79,299.5) scale(0.85,1)" text-anchor="middle" font-size="9.8" class="tk">2010</text>
<text transform="translate(429.1,152.3) rotate(-90) scale(1.12,1)" text-anchor="middle" font-size="7.7" class="tk">Contribution to all forcing (%)</text>
<text transform="translate(467.6,10.1) scale(1.0,1)" font-size="13">(b)</text>
</g>
<g id="pc">
<rect x="180.2" y="436" width="16.8" height="34.5" fill="#ff6666"/>
<rect x="248.1" y="460" width="16.6" height="48.7" fill="#ff6666"/>
<rect x="281.5" y="451.2" width="17.1" height="60.6" fill="#ff6666"/>
<rect x="379.5" y="410" width="17.2" height="58.7" fill="#ff6666"/>
<rect x="183.4" y="439.4" width="13.6" height="49.8" fill="#00bfff"/>
<rect x="250.9" y="416.2" width="13.8" height="67.2" fill="#00bfff"/>
<rect x="284.9" y="386" width="13.7" height="90.2" fill="#00bfff"/>
<rect x="383" y="340.9" width="13.7" height="113.7" fill="#00bfff"/>
<rect x="183.4" y="440.2" width="10.5" height="42.8" fill="#90ee90"/>
<rect x="250.9" y="444" width="10.3" height="29.9" fill="#90ee90"/>
<rect x="284.9" y="444" width="10.2" height="33.4" fill="#90ee90"/>
<rect x="383" y="458" width="10" height="19.5" fill="#90ee90"/>
<rect x="187.2" y="473" width="6.7" height="31.6" fill="#dfa060"/>
<rect x="254.6" y="493" width="6.6" height="67.7" fill="#dfa060"/>
<rect x="288.4" y="497.1" width="6.7" height="77.7" fill="#dfa060"/>
<rect x="386.4" y="474" width="6.6" height="110.2" fill="#dfa060"/>
<rect x="187.2" y="461.8" width="3.3" height="30.5" fill="#a0a0a0"/>
<rect x="254.6" y="471.2" width="3.2" height="33.7" fill="#a0a0a0"/>
<rect x="288.4" y="474.3" width="3.3" height="36.8" fill="#a0a0a0"/>
<rect x="386.4" y="465" width="3.2" height="31.8" fill="#a0a0a0"/>
<line x1="38.2" y1="470.3" x2="409.7" y2="470.3" stroke="#000" stroke-width="1" stroke-dasharray="5 3.73"/>
<path d="M38.2,470.3 L39.37,470.64 L40.55,470.98 L41.72,471.33 L42.9,471.69 L44.07,472.05 L45.25,472.41 L46.42,472.79 L47.59,473.16 L48.77,473.54 L49.94,473.93 L51.12,474.32 L52.29,474.71 L53.47,475.11 L54.64,475.51 L55.81,475.91 L56.99,476.32 L58.16,476.73 L59.34,477.14 L60.51,477.55 L61.69,477.96 L62.86,478.37 L64.03,478.79 L65.21,479.2 L66.38,479.62 L67.56,480.03 L68.73,480.45 L69.91,480.86 L71.08,481.28 L72.25,481.69 L73.43,482.1 L74.6,482.51 L75.78,482.92 L76.95,483.32 L78.12,483.73 L79.3,484.13 L80.47,484.52 L81.65,484.92 L82.82,485.3 L84,485.69 L85.17,486.07 L86.34,486.45 L87.52,486.82 L88.69,487.18 L89.87,487.55 L91.04,487.9 L92.22,488.25 L93.39,488.59 L94.56,488.93 L95.74,489.26 L96.91,489.58 L98.09,489.89 L99.26,490.2 L100.44,490.5 L101.61,490.79 L102.78,491.07 L103.96,491.34 L105.13,491.61 L106.31,491.86 L107.48,492.11 L108.66,492.34 L109.83,492.56 L111,492.78 L112.18,492.98 L113.35,493.17 L114.53,493.35 L115.7,493.52 L116.88,493.68 L118.05,493.82 L119.22,493.95 L120.4,494.07 L121.57,494.17 L122.75,494.26 L123.92,494.34 L125.1,494.41 L126.27,494.46 L127.44,494.49 L128.62,494.52 L129.79,494.53 L130.97,494.53 L132.14,494.51 L133.32,494.49 L134.49,494.46 L135.66,494.42 L136.84,494.37 L138.01,494.31 L139.19,494.25 L140.36,494.17 L141.53,494.1 L142.71,494.01 L143.88,493.92 L145.06,493.83 L146.23,493.73 L147.41,493.63 L148.58,493.52 L149.75,493.42 L150.93,493.31 L152.1,493.2 L153.28,493.09 L154.45,492.98 L155.63,492.87 L156.8,492.76 L157.97,492.66 L159.15,492.56 L160.32,492.46 L161.5,492.36 L162.67,492.27 L163.85,492.18 L165.02,492.1 L166.19,492.02 L167.37,491.95 L168.54,491.89 L169.72,491.84 L170.89,491.79 L172.07,491.75 L173.24,491.73 L174.41,491.71 L175.59,491.7 L176.76,491.71 L177.94,491.72 L179.11,491.75 L180.29,491.8 L181.46,491.85 L182.63,491.92 L183.81,492.01 L184.98,492.11 L186.16,492.22 L187.33,492.36 L188.51,492.51 L189.68,492.67 L190.85,492.86 L192.03,493.07 L193.2,493.29 L194.38,493.54 L195.55,493.8 L196.73,494.09 L197.9,494.4 L199.07,494.73 L200.25,495.08 L201.42,495.46 L202.6,495.86 L203.77,496.28 L204.95,496.71 L206.12,497.17 L207.29,497.65 L208.47,498.14 L209.64,498.65 L210.82,499.18 L211.99,499.73 L213.16,500.29 L214.34,500.87 L215.51,501.46 L216.69,502.06 L217.86,502.68 L219.04,503.31 L220.21,503.95 L221.38,504.61 L222.56,505.27 L223.73,505.95 L224.91,506.63 L226.08,507.33 L227.26,508.03 L228.43,508.74 L229.6,509.46 L230.78,510.18 L231.95,510.91 L233.13,511.64 L234.3,512.38 L235.48,513.12 L236.65,513.87 L237.82,514.62 L239,515.37 L240.17,516.12 L241.35,516.88 L242.52,517.63 L243.7,518.38 L244.87,519.14 L246.04,519.89 L247.22,520.64 L248.39,521.38 L249.57,522.13 L250.74,522.86 L251.92,523.6 L253.09,524.33 L254.26,525.05 L255.44,525.77 L256.61,526.47 L257.79,527.18 L258.96,527.87 L260.14,528.55 L261.31,529.23 L262.48,529.89 L263.66,530.54 L264.83,531.19 L266.01,531.82 L267.18,532.43 L268.36,533.04 L269.53,533.63 L270.7,534.2 L271.88,534.76 L273.05,535.3 L274.23,535.83 L275.4,536.34 L276.57,536.83 L277.75,537.31 L278.92,537.76 L280.1,538.2 L281.27,538.62 L282.45,539.01 L283.62,539.39 L284.79,539.74 L285.97,540.07 L287.14,540.37 L288.32,540.66 L289.49,540.92 L290.67,541.15 L291.84,541.37 L293.01,541.57 L294.19,541.74 L295.36,541.9 L296.54,542.04 L297.71,542.16 L298.89,542.26 L300.06,542.34 L301.23,542.41 L302.41,542.46 L303.58,542.49 L304.76,542.51 L305.93,542.52 L307.11,542.51 L308.28,542.49 L309.45,542.45 L310.63,542.4 L311.8,542.34 L312.98,542.27 L314.15,542.19 L315.33,542.1 L316.5,542 L317.67,541.88 L318.85,541.77 L320.02,541.64 L321.2,541.51 L322.37,541.36 L323.55,541.22 L324.72,541.06 L325.89,540.91 L327.07,540.74 L328.24,540.58 L329.42,540.41 L330.59,540.24 L331.77,540.06 L332.94,539.89 L334.11,539.71 L335.29,539.53 L336.46,539.35 L337.64,539.17 L338.81,539 L339.99,538.82 L341.16,538.64 L342.33,538.47 L343.51,538.3 L344.68,538.13 L345.86,537.96 L347.03,537.79 L348.2,537.62 L349.38,537.46 L350.55,537.3 L351.73,537.15 L352.9,537 L354.08,536.85 L355.25,536.7 L356.42,536.56 L357.6,536.43 L358.77,536.29 L359.95,536.17 L361.12,536.05 L362.3,535.93 L363.47,535.82 L364.64,535.72 L365.82,535.62 L366.99,535.53 L368.17,535.44 L369.34,535.36 L370.52,535.29 L371.69,535.23 L372.86,535.17 L374.04,535.12 L375.21,535.08 L376.39,535.05 L377.56,535.03 L378.74,535.01 L379.91,535.01 L381.08,535.01 L382.26,535.03 L383.43,535.05 L384.61,535.08 L385.78,535.13 L386.96,535.18 L388.13,535.25 L389.3,535.33" fill="none" stroke="#f57c00" stroke-width="1.12" stroke-linejoin="round"/>
<path d="M38.2,470.3 L39.37,470.02 L40.55,469.74 L41.72,469.47 L42.9,469.21 L44.07,468.95 L45.25,468.69 L46.42,468.44 L47.59,468.2 L48.77,467.96 L49.94,467.73 L51.12,467.51 L52.29,467.29 L53.47,467.07 L54.64,466.86 L55.81,466.66 L56.99,466.46 L58.16,466.26 L59.34,466.07 L60.51,465.89 L61.69,465.71 L62.86,465.54 L64.03,465.37 L65.21,465.21 L66.38,465.05 L67.56,464.9 L68.73,464.75 L69.91,464.61 L71.08,464.48 L72.25,464.34 L73.43,464.22 L74.6,464.1 L75.78,463.98 L76.95,463.87 L78.12,463.76 L79.3,463.66 L80.47,463.56 L81.65,463.47 L82.82,463.38 L84,463.3 L85.17,463.22 L86.34,463.14 L87.52,463.07 L88.69,463.01 L89.87,462.95 L91.04,462.89 L92.22,462.84 L93.39,462.8 L94.56,462.76 L95.74,462.72 L96.91,462.68 L98.09,462.66 L99.26,462.63 L100.44,462.61 L101.61,462.6 L102.78,462.59 L103.96,462.58 L105.13,462.58 L106.31,462.58 L107.48,462.58 L108.66,462.59 L109.83,462.61 L111,462.62 L112.18,462.65 L113.35,462.67 L114.53,462.7 L115.7,462.74 L116.88,462.77 L118.05,462.81 L119.22,462.86 L120.4,462.9 L121.57,462.96 L122.75,463.01 L123.92,463.07 L125.1,463.13 L126.27,463.19 L127.44,463.25 L128.62,463.32 L129.79,463.39 L130.97,463.47 L132.14,463.54 L133.32,463.62 L134.49,463.7 L135.66,463.78 L136.84,463.87 L138.01,463.95 L139.19,464.04 L140.36,464.13 L141.53,464.22 L142.71,464.32 L143.88,464.41 L145.06,464.51 L146.23,464.6 L147.41,464.7 L148.58,464.8 L149.75,464.9 L150.93,465 L152.1,465.1 L153.28,465.21 L154.45,465.31 L155.63,465.41 L156.8,465.52 L157.97,465.62 L159.15,465.73 L160.32,465.83 L161.5,465.94 L162.67,466.04 L163.85,466.15 L165.02,466.25 L166.19,466.36 L167.37,466.46 L168.54,466.57 L169.72,466.67 L170.89,466.77 L172.07,466.87 L173.24,466.97 L174.41,467.07 L175.59,467.17 L176.76,467.27 L177.94,467.37 L179.11,467.46 L180.29,467.55 L181.46,467.65 L182.63,467.74 L183.81,467.82 L184.98,467.91 L186.16,468 L187.33,468.08 L188.51,468.16 L189.68,468.25 L190.85,468.33 L192.03,468.4 L193.2,468.48 L194.38,468.56 L195.55,468.63 L196.73,468.7 L197.9,468.77 L199.07,468.84 L200.25,468.91 L201.42,468.98 L202.6,469.05 L203.77,469.11 L204.95,469.17 L206.12,469.23 L207.29,469.29 L208.47,469.35 L209.64,469.41 L210.82,469.47 L211.99,469.52 L213.16,469.57 L214.34,469.63 L215.51,469.68 L216.69,469.73 L217.86,469.77 L219.04,469.82 L220.21,469.87 L221.38,469.91 L222.56,469.95 L223.73,469.99 L224.91,470.03 L226.08,470.07 L227.26,470.11 L228.43,470.15 L229.6,470.18 L230.78,470.22 L231.95,470.25 L233.13,470.28 L234.3,470.31 L235.48,470.34 L236.65,470.37 L237.82,470.39 L239,470.42 L240.17,470.44 L241.35,470.47 L242.52,470.49 L243.7,470.51 L244.87,470.53 L246.04,470.55 L247.22,470.56 L248.39,470.58 L249.57,470.6 L250.74,470.61 L251.92,470.62 L253.09,470.63 L254.26,470.64 L255.44,470.65 L256.61,470.66 L257.79,470.67 L258.96,470.67 L260.14,470.68 L261.31,470.68 L262.48,470.69 L263.66,470.69 L264.83,470.69 L266.01,470.69 L267.18,470.69 L268.36,470.68 L269.53,470.68 L270.7,470.68 L271.88,470.67 L273.05,470.66 L274.23,470.66 L275.4,470.65 L276.57,470.64 L277.75,470.63 L278.92,470.62 L280.1,470.6 L281.27,470.59 L282.45,470.58 L283.62,470.56 L284.79,470.55 L285.97,470.53 L287.14,470.51 L288.32,470.49 L289.49,470.47 L290.67,470.45 L291.84,470.43 L293.01,470.41 L294.19,470.38 L295.36,470.36 L296.54,470.33 L297.71,470.31 L298.89,470.28 L300.06,470.25 L301.23,470.22 L302.41,470.19 L303.58,470.16 L304.76,470.13 L305.93,470.1 L307.11,470.07 L308.28,470.03 L309.45,470 L310.63,469.96 L311.8,469.93 L312.98,469.89 L314.15,469.85 L315.33,469.81 L316.5,469.77 L317.67,469.73 L318.85,469.69 L320.02,469.65 L321.2,469.61 L322.37,469.57 L323.55,469.52 L324.72,469.48 L325.89,469.43 L327.07,469.39 L328.24,469.34 L329.42,469.29 L330.59,469.24 L331.77,469.19 L332.94,469.15 L334.11,469.1 L335.29,469.04 L336.46,468.99 L337.64,468.94 L338.81,468.89 L339.99,468.84 L341.16,468.78 L342.33,468.73 L343.51,468.67 L344.68,468.62 L345.86,468.56 L347.03,468.5 L348.2,468.44 L349.38,468.39 L350.55,468.33 L351.73,468.27 L352.9,468.21 L354.08,468.15 L355.25,468.09 L356.42,468.03 L357.6,467.96 L358.77,467.9 L359.95,467.84 L361.12,467.77 L362.3,467.71 L363.47,467.64 L364.64,467.58 L365.82,467.51 L366.99,467.45 L368.17,467.38 L369.34,467.31 L370.52,467.25 L371.69,467.18 L372.86,467.11 L374.04,467.04 L375.21,466.97 L376.39,466.9 L377.56,466.83 L378.74,466.76 L379.91,466.69 L381.08,466.62 L382.26,466.54 L383.43,466.47 L384.61,466.4 L385.78,466.33 L386.96,466.25 L388.13,466.18 L389.3,466.1" fill="none" stroke="#0a6e0a" stroke-width="1.12" stroke-linejoin="round"/>
<path d="M38.2,470.3 L39.37,470.11 L40.55,469.92 L41.72,469.73 L42.9,469.54 L44.07,469.35 L45.25,469.16 L46.42,468.98 L47.59,468.79 L48.77,468.61 L49.94,468.42 L51.12,468.24 L52.29,468.06 L53.47,467.87 L54.64,467.69 L55.81,467.51 L56.99,467.33 L58.16,467.16 L59.34,466.98 L60.51,466.81 L61.69,466.63 L62.86,466.46 L64.03,466.29 L65.21,466.12 L66.38,465.95 L67.56,465.78 L68.73,465.62 L69.91,465.45 L71.08,465.29 L72.25,465.13 L73.43,464.97 L74.6,464.81 L75.78,464.66 L76.95,464.5 L78.12,464.35 L79.3,464.2 L80.47,464.05 L81.65,463.9 L82.82,463.75 L84,463.61 L85.17,463.47 L86.34,463.33 L87.52,463.19 L88.69,463.06 L89.87,462.92 L91.04,462.79 L92.22,462.66 L93.39,462.54 L94.56,462.41 L95.74,462.29 L96.91,462.17 L98.09,462.05 L99.26,461.94 L100.44,461.82 L101.61,461.71 L102.78,461.61 L103.96,461.5 L105.13,461.4 L106.31,461.3 L107.48,461.2 L108.66,461.11 L109.83,461.02 L111,460.93 L112.18,460.84 L113.35,460.76 L114.53,460.68 L115.7,460.6 L116.88,460.52 L118.05,460.45 L119.22,460.38 L120.4,460.32 L121.57,460.26 L122.75,460.2 L123.92,460.14 L125.1,460.09 L126.27,460.04 L127.44,459.99 L128.62,459.95 L129.79,459.91 L130.97,459.87 L132.14,459.84 L133.32,459.81 L134.49,459.78 L135.66,459.76 L136.84,459.74 L138.01,459.72 L139.19,459.71 L140.36,459.7 L141.53,459.69 L142.71,459.68 L143.88,459.68 L145.06,459.68 L146.23,459.69 L147.41,459.7 L148.58,459.71 L149.75,459.72 L150.93,459.74 L152.1,459.76 L153.28,459.78 L154.45,459.81 L155.63,459.84 L156.8,459.87 L157.97,459.91 L159.15,459.95 L160.32,459.99 L161.5,460.03 L162.67,460.07 L163.85,460.11 L165.02,460.16 L166.19,460.2 L167.37,460.25 L168.54,460.29 L169.72,460.33 L170.89,460.37 L172.07,460.41 L173.24,460.45 L174.41,460.49 L175.59,460.52 L176.76,460.55 L177.94,460.58 L179.11,460.61 L180.29,460.63 L181.46,460.65 L182.63,460.66 L183.81,460.67 L184.98,460.67 L186.16,460.67 L187.33,460.66 L188.51,460.64 L189.68,460.62 L190.85,460.59 L192.03,460.56 L193.2,460.52 L194.38,460.47 L195.55,460.41 L196.73,460.34 L197.9,460.26 L199.07,460.18 L200.25,460.09 L201.42,459.98 L202.6,459.87 L203.77,459.75 L204.95,459.62 L206.12,459.48 L207.29,459.33 L208.47,459.17 L209.64,459 L210.82,458.82 L211.99,458.64 L213.16,458.44 L214.34,458.24 L215.51,458.03 L216.69,457.81 L217.86,457.58 L219.04,457.34 L220.21,457.09 L221.38,456.83 L222.56,456.57 L223.73,456.3 L224.91,456.01 L226.08,455.72 L227.26,455.42 L228.43,455.11 L229.6,454.8 L230.78,454.47 L231.95,454.14 L233.13,453.79 L234.3,453.44 L235.48,453.08 L236.65,452.71 L237.82,452.34 L239,451.95 L240.17,451.56 L241.35,451.16 L242.52,450.75 L243.7,450.33 L244.87,449.91 L246.04,449.47 L247.22,449.03 L248.39,448.58 L249.57,448.12 L250.74,447.66 L251.92,447.18 L253.09,446.7 L254.26,446.21 L255.44,445.71 L256.61,445.21 L257.79,444.69 L258.96,444.17 L260.14,443.64 L261.31,443.11 L262.48,442.56 L263.66,442.01 L264.83,441.45 L266.01,440.88 L267.18,440.3 L268.36,439.72 L269.53,439.13 L270.7,438.53 L271.88,437.93 L273.05,437.31 L274.23,436.69 L275.4,436.06 L276.57,435.43 L277.75,434.79 L278.92,434.14 L280.1,433.48 L281.27,432.81 L282.45,432.14 L283.62,431.46 L284.79,430.78 L285.97,430.08 L287.14,429.38 L288.32,428.68 L289.49,427.96 L290.67,427.24 L291.84,426.52 L293.01,425.79 L294.19,425.05 L295.36,424.31 L296.54,423.57 L297.71,422.82 L298.89,422.07 L300.06,421.32 L301.23,420.56 L302.41,419.8 L303.58,419.04 L304.76,418.28 L305.93,417.52 L307.11,416.76 L308.28,415.99 L309.45,415.23 L310.63,414.47 L311.8,413.71 L312.98,412.95 L314.15,412.2 L315.33,411.44 L316.5,410.69 L317.67,409.94 L318.85,409.2 L320.02,408.46 L321.2,407.72 L322.37,406.99 L323.55,406.27 L324.72,405.55 L325.89,404.83 L327.07,404.12 L328.24,403.42 L329.42,402.73 L330.59,402.04 L331.77,401.36 L332.94,400.69 L334.11,400.03 L335.29,399.38 L336.46,398.73 L337.64,398.1 L338.81,397.48 L339.99,396.87 L341.16,396.27 L342.33,395.68 L343.51,395.1 L344.68,394.53 L345.86,393.97 L347.03,393.43 L348.2,392.89 L349.38,392.37 L350.55,391.86 L351.73,391.37 L352.9,390.88 L354.08,390.41 L355.25,389.95 L356.42,389.5 L357.6,389.07 L358.77,388.65 L359.95,388.25 L361.12,387.86 L362.3,387.48 L363.47,387.12 L364.64,386.77 L365.82,386.43 L366.99,386.11 L368.17,385.81 L369.34,385.52 L370.52,385.24 L371.69,384.98 L372.86,384.74 L374.04,384.51 L375.21,384.3 L376.39,384.11 L377.56,383.93 L378.74,383.76 L379.91,383.62 L381.08,383.49 L382.26,383.38 L383.43,383.28 L384.61,383.21 L385.78,383.15 L386.96,383.1 L388.13,383.08 L389.3,383.08" fill="none" stroke="#0000ff" stroke-width="1.12" stroke-linejoin="round"/>
<path d="M38.2,470.3 L39.37,470.56 L40.55,470.81 L41.72,471.07 L42.9,471.32 L44.07,471.57 L45.25,471.83 L46.42,472.07 L47.59,472.32 L48.77,472.56 L49.94,472.8 L51.12,473.03 L52.29,473.26 L53.47,473.49 L54.64,473.71 L55.81,473.92 L56.99,474.13 L58.16,474.33 L59.34,474.53 L60.51,474.71 L61.69,474.89 L62.86,475.07 L64.03,475.23 L65.21,475.38 L66.38,475.53 L67.56,475.66 L68.73,475.79 L69.91,475.9 L71.08,476.01 L72.25,476.1 L73.43,476.18 L74.6,476.25 L75.78,476.31 L76.95,476.35 L78.12,476.38 L79.3,476.4 L80.47,476.4 L81.65,476.39 L82.82,476.36 L84,476.32 L85.17,476.26 L86.34,476.19 L87.52,476.1 L88.69,475.99 L89.87,475.88 L91.04,475.75 L92.22,475.6 L93.39,475.44 L94.56,475.27 L95.74,475.09 L96.91,474.9 L98.09,474.7 L99.26,474.48 L100.44,474.26 L101.61,474.03 L102.78,473.79 L103.96,473.55 L105.13,473.29 L106.31,473.03 L107.48,472.76 L108.66,472.49 L109.83,472.21 L111,471.93 L112.18,471.64 L113.35,471.35 L114.53,471.05 L115.7,470.76 L116.88,470.46 L118.05,470.16 L119.22,469.86 L120.4,469.56 L121.57,469.26 L122.75,468.96 L123.92,468.66 L125.1,468.36 L126.27,468.06 L127.44,467.77 L128.62,467.48 L129.79,467.19 L130.97,466.91 L132.14,466.62 L133.32,466.34 L134.49,466.07 L135.66,465.8 L136.84,465.53 L138.01,465.26 L139.19,465 L140.36,464.75 L141.53,464.5 L142.71,464.25 L143.88,464.01 L145.06,463.77 L146.23,463.54 L147.41,463.32 L148.58,463.1 L149.75,462.88 L150.93,462.67 L152.1,462.47 L153.28,462.28 L154.45,462.09 L155.63,461.91 L156.8,461.73 L157.97,461.56 L159.15,461.4 L160.32,461.25 L161.5,461.1 L162.67,460.97 L163.85,460.84 L165.02,460.72 L166.19,460.6 L167.37,460.5 L168.54,460.4 L169.72,460.32 L170.89,460.24 L172.07,460.17 L173.24,460.12 L174.41,460.07 L175.59,460.03 L176.76,460 L177.94,459.99 L179.11,459.98 L180.29,459.98 L181.46,460 L182.63,460.02 L183.81,460.06 L184.98,460.11 L186.16,460.17 L187.33,460.24 L188.51,460.33 L189.68,460.42 L190.85,460.53 L192.03,460.65 L193.2,460.79 L194.38,460.93 L195.55,461.09 L196.73,461.27 L197.9,461.46 L199.07,461.66 L200.25,461.87 L201.42,462.1 L202.6,462.34 L203.77,462.59 L204.95,462.86 L206.12,463.13 L207.29,463.41 L208.47,463.71 L209.64,464.01 L210.82,464.33 L211.99,464.65 L213.16,464.98 L214.34,465.31 L215.51,465.66 L216.69,466 L217.86,466.36 L219.04,466.72 L220.21,467.08 L221.38,467.45 L222.56,467.82 L223.73,468.19 L224.91,468.57 L226.08,468.95 L227.26,469.33 L228.43,469.71 L229.6,470.09 L230.78,470.47 L231.95,470.85 L233.13,471.23 L234.3,471.6 L235.48,471.98 L236.65,472.35 L237.82,472.72 L239,473.08 L240.17,473.44 L241.35,473.79 L242.52,474.14 L243.7,474.48 L244.87,474.81 L246.04,475.14 L247.22,475.46 L248.39,475.77 L249.57,476.08 L250.74,476.37 L251.92,476.65 L253.09,476.93 L254.26,477.19 L255.44,477.45 L256.61,477.7 L257.79,477.94 L258.96,478.17 L260.14,478.38 L261.31,478.59 L262.48,478.8 L263.66,478.99 L264.83,479.17 L266.01,479.34 L267.18,479.5 L268.36,479.66 L269.53,479.8 L270.7,479.93 L271.88,480.06 L273.05,480.17 L274.23,480.28 L275.4,480.37 L276.57,480.46 L277.75,480.53 L278.92,480.6 L280.1,480.66 L281.27,480.7 L282.45,480.74 L283.62,480.76 L284.79,480.78 L285.97,480.79 L287.14,480.78 L288.32,480.77 L289.49,480.74 L290.67,480.71 L291.84,480.67 L293.01,480.61 L294.19,480.55 L295.36,480.47 L296.54,480.39 L297.71,480.29 L298.89,480.19 L300.06,480.07 L301.23,479.94 L302.41,479.81 L303.58,479.66 L304.76,479.5 L305.93,479.34 L307.11,479.16 L308.28,478.98 L309.45,478.79 L310.63,478.59 L311.8,478.38 L312.98,478.17 L314.15,477.95 L315.33,477.72 L316.5,477.48 L317.67,477.24 L318.85,476.99 L320.02,476.73 L321.2,476.47 L322.37,476.2 L323.55,475.93 L324.72,475.65 L325.89,475.37 L327.07,475.09 L328.24,474.8 L329.42,474.5 L330.59,474.21 L331.77,473.9 L332.94,473.6 L334.11,473.29 L335.29,472.99 L336.46,472.67 L337.64,472.36 L338.81,472.05 L339.99,471.73 L341.16,471.41 L342.33,471.1 L343.51,470.78 L344.68,470.46 L345.86,470.14 L347.03,469.82 L348.2,469.5 L349.38,469.18 L350.55,468.87 L351.73,468.55 L352.9,468.24 L354.08,467.93 L355.25,467.62 L356.42,467.31 L357.6,467.01 L358.77,466.71 L359.95,466.41 L361.12,466.11 L362.3,465.82 L363.47,465.53 L364.64,465.24 L365.82,464.96 L366.99,464.68 L368.17,464.4 L369.34,464.12 L370.52,463.85 L371.69,463.58 L372.86,463.32 L374.04,463.06 L375.21,462.8 L376.39,462.54 L377.56,462.29 L378.74,462.04 L379.91,461.8 L381.08,461.56 L382.26,461.32 L383.43,461.09 L384.61,460.86 L385.78,460.64 L386.96,460.42 L388.13,460.2 L389.3,459.99" fill="none" stroke="#d40000" stroke-width="1.12" stroke-linejoin="round"/>
<path d="M38.2,470.3 L39.37,470.47 L40.55,470.65 L41.72,470.83 L42.9,471.02 L44.07,471.22 L45.25,471.42 L46.42,471.62 L47.59,471.83 L48.77,472.04 L49.94,472.25 L51.12,472.47 L52.29,472.69 L53.47,472.91 L54.64,473.13 L55.81,473.36 L56.99,473.58 L58.16,473.81 L59.34,474.03 L60.51,474.26 L61.69,474.49 L62.86,474.71 L64.03,474.94 L65.21,475.16 L66.38,475.38 L67.56,475.6 L68.73,475.81 L69.91,476.02 L71.08,476.23 L72.25,476.44 L73.43,476.64 L74.6,476.83 L75.78,477.02 L76.95,477.21 L78.12,477.39 L79.3,477.56 L80.47,477.73 L81.65,477.89 L82.82,478.05 L84,478.19 L85.17,478.33 L86.34,478.46 L87.52,478.59 L88.69,478.7 L89.87,478.81 L91.04,478.91 L92.22,479 L93.39,479.09 L94.56,479.16 L95.74,479.23 L96.91,479.3 L98.09,479.36 L99.26,479.41 L100.44,479.45 L101.61,479.49 L102.78,479.52 L103.96,479.55 L105.13,479.57 L106.31,479.58 L107.48,479.59 L108.66,479.6 L109.83,479.59 L111,479.59 L112.18,479.58 L113.35,479.56 L114.53,479.54 L115.7,479.51 L116.88,479.48 L118.05,479.45 L119.22,479.41 L120.4,479.36 L121.57,479.32 L122.75,479.26 L123.92,479.21 L125.1,479.15 L126.27,479.09 L127.44,479.03 L128.62,478.96 L129.79,478.89 L130.97,478.81 L132.14,478.74 L133.32,478.66 L134.49,478.58 L135.66,478.5 L136.84,478.42 L138.01,478.33 L139.19,478.25 L140.36,478.16 L141.53,478.08 L142.71,477.99 L143.88,477.9 L145.06,477.81 L146.23,477.73 L147.41,477.64 L148.58,477.55 L149.75,477.46 L150.93,477.38 L152.1,477.29 L153.28,477.21 L154.45,477.13 L155.63,477.05 L156.8,476.97 L157.97,476.89 L159.15,476.82 L160.32,476.75 L161.5,476.68 L162.67,476.61 L163.85,476.55 L165.02,476.49 L166.19,476.43 L167.37,476.38 L168.54,476.33 L169.72,476.29 L170.89,476.25 L172.07,476.21 L173.24,476.18 L174.41,476.15 L175.59,476.13 L176.76,476.12 L177.94,476.11 L179.11,476.1 L180.29,476.1 L181.46,476.11 L182.63,476.12 L183.81,476.14 L184.98,476.17 L186.16,476.2 L187.33,476.24 L188.51,476.29 L189.68,476.35 L190.85,476.41 L192.03,476.48 L193.2,476.56 L194.38,476.64 L195.55,476.74 L196.73,476.84 L197.9,476.96 L199.07,477.08 L200.25,477.21 L201.42,477.35 L202.6,477.5 L203.77,477.66 L204.95,477.82 L206.12,478 L207.29,478.18 L208.47,478.37 L209.64,478.56 L210.82,478.76 L211.99,478.97 L213.16,479.19 L214.34,479.41 L215.51,479.64 L216.69,479.88 L217.86,480.12 L219.04,480.36 L220.21,480.62 L221.38,480.87 L222.56,481.13 L223.73,481.4 L224.91,481.67 L226.08,481.94 L227.26,482.22 L228.43,482.51 L229.6,482.79 L230.78,483.08 L231.95,483.37 L233.13,483.67 L234.3,483.96 L235.48,484.26 L236.65,484.56 L237.82,484.87 L239,485.17 L240.17,485.48 L241.35,485.79 L242.52,486.1 L243.7,486.41 L244.87,486.72 L246.04,487.03 L247.22,487.34 L248.39,487.65 L249.57,487.96 L250.74,488.27 L251.92,488.58 L253.09,488.89 L254.26,489.19 L255.44,489.5 L256.61,489.8 L257.79,490.1 L258.96,490.4 L260.14,490.7 L261.31,491 L262.48,491.29 L263.66,491.58 L264.83,491.86 L266.01,492.14 L267.18,492.42 L268.36,492.7 L269.53,492.97 L270.7,493.23 L271.88,493.49 L273.05,493.75 L274.23,494 L275.4,494.25 L276.57,494.49 L277.75,494.72 L278.92,494.95 L280.1,495.17 L281.27,495.39 L282.45,495.6 L283.62,495.8 L284.79,496 L285.97,496.19 L287.14,496.37 L288.32,496.54 L289.49,496.71 L290.67,496.86 L291.84,497.01 L293.01,497.15 L294.19,497.28 L295.36,497.4 L296.54,497.52 L297.71,497.62 L298.89,497.71 L300.06,497.8 L301.23,497.87 L302.41,497.93 L303.58,497.98 L304.76,498.03 L305.93,498.06 L307.11,498.09 L308.28,498.1 L309.45,498.11 L310.63,498.11 L311.8,498.1 L312.98,498.08 L314.15,498.06 L315.33,498.03 L316.5,497.98 L317.67,497.94 L318.85,497.88 L320.02,497.82 L321.2,497.75 L322.37,497.68 L323.55,497.6 L324.72,497.51 L325.89,497.41 L327.07,497.32 L328.24,497.21 L329.42,497.1 L330.59,496.99 L331.77,496.87 L332.94,496.75 L334.11,496.62 L335.29,496.49 L336.46,496.35 L337.64,496.21 L338.81,496.07 L339.99,495.92 L341.16,495.77 L342.33,495.62 L343.51,495.46 L344.68,495.3 L345.86,495.14 L347.03,494.98 L348.2,494.82 L349.38,494.65 L350.55,494.49 L351.73,494.32 L352.9,494.15 L354.08,493.98 L355.25,493.81 L356.42,493.64 L357.6,493.46 L358.77,493.29 L359.95,493.12 L361.12,492.95 L362.3,492.78 L363.47,492.61 L364.64,492.44 L365.82,492.28 L366.99,492.11 L368.17,491.95 L369.34,491.79 L370.52,491.63 L371.69,491.47 L372.86,491.31 L374.04,491.16 L375.21,491.01 L376.39,490.87 L377.56,490.72 L378.74,490.59 L379.91,490.45 L381.08,490.32 L382.26,490.19 L383.43,490.07 L384.61,489.95 L385.78,489.84 L386.96,489.73 L388.13,489.63 L389.3,489.53" fill="none" stroke="#000" stroke-width="1.12" stroke-linejoin="round"/>
<path d="M38.2,330.4 H409.7 V592.8 H38.2 Z" fill="none" stroke="#0a0a0a" stroke-width="0.9"/>
<path d="M32.8,592.66 H38.2 M409.7,592.66 H415.1" stroke="#0a0a0a" stroke-width="0.9"/>
<text transform="translate(29.6,593.96) scale(0.85,1)" text-anchor="end" font-size="9.8" class="tk">-0.7</text>
<path d="M32.8,575.18 H38.2 M409.7,575.18 H415.1" stroke="#0a0a0a" stroke-width="0.9"/>
<text transform="translate(29.6,578.48) scale(0.85,1)" text-anchor="end" font-size="9.8" class="tk">-0.6</text>
<path d="M32.8,557.7 H38.2 M409.7,557.7 H415.1" stroke="#0a0a0a" stroke-width="0.9"/>
<text transform="translate(29.6,561) scale(0.85,1)" text-anchor="end" font-size="9.8" class="tk">-0.5</text>
<path d="M32.8,540.22 H38.2 M409.7,540.22 H415.1" stroke="#0a0a0a" stroke-width="0.9"/>
<text transform="translate(29.6,543.52) scale(0.85,1)" text-anchor="end" font-size="9.8" class="tk">-0.4</text>
<path d="M32.8,522.74 H38.2 M409.7,522.74 H415.1" stroke="#0a0a0a" stroke-width="0.9"/>
<text transform="translate(29.6,526.04) scale(0.85,1)" text-anchor="end" font-size="9.8" class="tk">-0.3</text>
<path d="M32.8,505.26 H38.2 M409.7,505.26 H415.1" stroke="#0a0a0a" stroke-width="0.9"/>
<text transform="translate(29.6,508.56) scale(0.85,1)" text-anchor="end" font-size="9.8" class="tk">-0.2</text>
<path d="M32.8,487.78 H38.2 M409.7,487.78 H415.1" stroke="#0a0a0a" stroke-width="0.9"/>
<text transform="translate(29.6,491.08) scale(0.85,1)" text-anchor="end" font-size="9.8" class="tk">-0.1</text>
<path d="M32.8,470.3 H38.2 M409.7,470.3 H415.1" stroke="#0a0a0a" stroke-width="0.9"/>
<text transform="translate(29.6,473.6) scale(0.85,1)" text-anchor="end" font-size="9.8" class="tk">0</text>
<path d="M32.8,452.82 H38.2 M409.7,452.82 H415.1" stroke="#0a0a0a" stroke-width="0.9"/>
<text transform="translate(29.6,456.12) scale(0.85,1)" text-anchor="end" font-size="9.8" class="tk">0.1</text>
<path d="M32.8,435.34 H38.2 M409.7,435.34 H415.1" stroke="#0a0a0a" stroke-width="0.9"/>
<text transform="translate(29.6,438.64) scale(0.85,1)" text-anchor="end" font-size="9.8" class="tk">0.2</text>
<path d="M32.8,417.86 H38.2 M409.7,417.86 H415.1" stroke="#0a0a0a" stroke-width="0.9"/>
<text transform="translate(29.6,421.16) scale(0.85,1)" text-anchor="end" font-size="9.8" class="tk">0.3</text>
<path d="M32.8,400.38 H38.2 M409.7,400.38 H415.1" stroke="#0a0a0a" stroke-width="0.9"/>
<text transform="translate(29.6,403.68) scale(0.85,1)" text-anchor="end" font-size="9.8" class="tk">0.4</text>
<path d="M32.8,382.9 H38.2 M409.7,382.9 H415.1" stroke="#0a0a0a" stroke-width="0.9"/>
<text transform="translate(29.6,386.2) scale(0.85,1)" text-anchor="end" font-size="9.8" class="tk">0.5</text>
<path d="M32.8,365.42 H38.2 M409.7,365.42 H415.1" stroke="#0a0a0a" stroke-width="0.9"/>
<text transform="translate(29.6,368.72) scale(0.85,1)" text-anchor="end" font-size="9.8" class="tk">0.6</text>
<path d="M32.8,347.94 H38.2 M409.7,347.94 H415.1" stroke="#0a0a0a" stroke-width="0.9"/>
<text transform="translate(29.6,351.24) scale(0.85,1)" text-anchor="end" font-size="9.8" class="tk">0.7</text>
<path d="M32.8,330.46 H38.2 M409.7,330.46 H415.1" stroke="#0a0a0a" stroke-width="0.9"/>
<text transform="translate(29.6,336.16) scale(0.85,1)" text-anchor="end" font-size="9.8" class="tk">0.8</text>
<path d="M38.2,592.8 V598.1" stroke="#0a0a0a" stroke-width="0.9"/>
<path d="M38.2,330.4 V325.4" stroke="#0a0a0a" stroke-width="0.9"/>
<text transform="translate(38.2,610.1) scale(0.85,1)" text-anchor="middle" font-size="9.8" class="tk">1900</text>
<path d="M71.96,592.8 V598.1" stroke="#0a0a0a" stroke-width="0.9"/>
<path d="M71.96,330.4 V325.4" stroke="#0a0a0a" stroke-width="0.9"/>
<text transform="translate(71.96,610.1) scale(0.85,1)" text-anchor="middle" font-size="9.8" class="tk">1910</text>
<path d="M105.72,592.8 V598.1" stroke="#0a0a0a" stroke-width="0.9"/>
<path d="M105.72,330.4 V329.2" stroke="#0a0a0a" stroke-width="0.9"/>
<text transform="translate(105.72,610.1) scale(0.85,1)" text-anchor="middle" font-size="9.8" class="tk">1920</text>
<path d="M139.48,592.8 V598.1" stroke="#0a0a0a" stroke-width="0.9"/>
<path d="M139.48,330.4 V329.2" stroke="#0a0a0a" stroke-width="0.9"/>
<text transform="translate(139.48,610.1) scale(0.85,1)" text-anchor="middle" font-size="9.8" class="tk">1930</text>
<path d="M173.24,592.8 V598.1" stroke="#0a0a0a" stroke-width="0.9"/>
<path d="M173.24,330.4 V329.2" stroke="#0a0a0a" stroke-width="0.9"/>
<text transform="translate(173.24,610.1) scale(0.85,1)" text-anchor="middle" font-size="9.8" class="tk">1940</text>
<path d="M207,592.8 V598.1" stroke="#0a0a0a" stroke-width="0.9"/>
<path d="M207,330.4 V329.2" stroke="#0a0a0a" stroke-width="0.9"/>
<text transform="translate(207,610.1) scale(0.85,1)" text-anchor="middle" font-size="9.8" class="tk">1950</text>
<path d="M240.76,592.8 V598.1" stroke="#0a0a0a" stroke-width="0.9"/>
<path d="M240.76,330.4 V329.2" stroke="#0a0a0a" stroke-width="0.9"/>
<text transform="translate(240.76,610.1) scale(0.85,1)" text-anchor="middle" font-size="9.8" class="tk">1960</text>
<path d="M274.52,592.8 V598.1" stroke="#0a0a0a" stroke-width="0.9"/>
<path d="M274.52,330.4 V329.2" stroke="#0a0a0a" stroke-width="0.9"/>
<text transform="translate(274.52,610.1) scale(0.85,1)" text-anchor="middle" font-size="9.8" class="tk">1970</text>
<path d="M308.28,592.8 V598.1" stroke="#0a0a0a" stroke-width="0.9"/>
<path d="M308.28,330.4 V329.2" stroke="#0a0a0a" stroke-width="0.9"/>
<text transform="translate(308.28,610.1) scale(0.85,1)" text-anchor="middle" font-size="9.8" class="tk">1980</text>
<path d="M342.04,592.8 V598.1" stroke="#0a0a0a" stroke-width="0.9"/>
<path d="M342.04,330.4 V329.2" stroke="#0a0a0a" stroke-width="0.9"/>
<text transform="translate(342.04,610.1) scale(0.85,1)" text-anchor="middle" font-size="9.8" class="tk">1990</text>
<path d="M375.8,592.8 V598.1" stroke="#0a0a0a" stroke-width="0.9"/>
<path d="M375.8,330.4 V329.2" stroke="#0a0a0a" stroke-width="0.9"/>
<text transform="translate(375.8,610.1) scale(0.85,1)" text-anchor="middle" font-size="9.8" class="tk">2000</text>
<path d="M409.56,592.8 V598.1" stroke="#0a0a0a" stroke-width="0.9"/>
<text transform="translate(409.56,610.1) scale(0.85,1)" text-anchor="middle" font-size="9.8" class="tk">2010</text>
<text transform="translate(5.9,462.7) rotate(-90) scale(1.13,1)" text-anchor="middle" font-size="7.7" class="tk">Temperature difference [K]</text>
<text transform="translate(44.2,322) scale(1.0,1)" font-size="13">(c)</text>
</g>
<g id="pd">
<rect x="465.27" y="330.7" width="320.46" height="262" fill="#0000e6"/>
<path d="M465.57,592.7 L465.57,388.89 L466.1,388.73 L466.64,388.61 L467.17,388.48 L467.7,388.36 L468.24,388.25 L468.77,388.16 L469.3,388.1 L469.84,388.08 L470.37,388.09 L470.9,388.13 L471.44,388.2 L471.97,388.29 L472.5,388.4 L473.03,388.52 L473.57,388.65 L474.1,388.79 L474.63,388.93 L475.17,389.08 L475.7,389.24 L476.23,389.39 L476.77,389.55 L477.3,389.71 L477.83,389.86 L478.37,390.02 L478.9,390.17 L479.43,390.32 L479.97,390.49 L480.5,390.66 L481.03,390.84 L481.57,391.03 L482.1,391.23 L482.63,391.42 L483.17,391.62 L483.7,391.8 L484.23,391.98 L484.77,392.15 L485.3,392.31 L485.83,392.45 L486.37,392.57 L486.9,392.67 L487.43,392.74 L487.97,392.79 L488.5,392.81 L489.03,392.81 L489.57,392.79 L490.1,392.76 L490.63,392.71 L491.17,392.66 L491.7,392.6 L492.23,392.52 L492.77,392.44 L493.3,392.35 L493.83,392.25 L494.37,392.15 L494.9,392.04 L495.43,391.93 L495.97,391.81 L496.5,391.7 L497.03,391.57 L497.57,391.45 L498.1,391.32 L498.63,391.2 L499.17,391.07 L499.7,390.95 L500.23,390.83 L500.77,390.71 L501.3,390.6 L501.83,390.49 L502.37,390.38 L502.9,390.28 L503.43,390.18 L503.97,390.09 L504.5,389.99 L505.03,389.9 L505.57,389.8 L506.1,389.71 L506.63,389.61 L507.17,389.51 L507.7,389.42 L508.23,389.32 L508.76,389.23 L509.3,389.14 L509.83,389.04 L510.36,388.96 L510.9,388.87 L511.43,388.78 L511.96,388.7 L512.5,388.62 L513.03,388.55 L513.56,388.48 L514.1,388.42 L514.63,388.39 L515.16,388.39 L515.7,388.43 L516.23,388.53 L516.76,388.67 L517.3,388.85 L517.83,389.07 L518.36,389.32 L518.9,389.6 L519.43,389.9 L519.96,390.22 L520.5,390.56 L521.03,390.9 L521.56,391.25 L522.1,391.6 L522.63,391.96 L523.16,392.34 L523.7,392.76 L524.23,393.25 L524.76,393.82 L525.3,394.47 L525.83,395.2 L526.36,396.01 L526.9,396.87 L527.43,397.79 L527.96,398.75 L528.5,399.76 L529.03,400.79 L529.56,401.86 L530.1,402.94 L530.63,404.07 L531.16,405.26 L531.7,406.56 L532.23,408 L532.76,409.57 L533.3,411.26 L533.83,413.06 L534.36,414.93 L534.9,416.86 L535.43,418.82 L535.96,420.78 L536.5,422.75 L537.03,424.71 L537.56,426.7 L538.1,428.76 L538.63,430.92 L539.16,433.24 L539.7,435.73 L540.23,438.45 L540.76,441.47 L541.3,444.95 L541.83,449.23 L542.36,454.71 L542.9,461.4 L543.43,468.65 L543.96,475.67 L544.5,482.03 L545.03,487.49 L545.56,491.69 L546.09,494.11 L546.63,494.22 L547.16,491.8 L547.69,487.08 L548.23,480.58 L548.76,472.75 L549.29,464.01 L549.83,454.97 L550.36,446.29 L550.89,438.18 L551.43,430.35 L551.96,422.49 L552.49,414.64 L553.03,407.1 L553.56,400.04 L554.09,393.45 L554.63,387.27 L555.16,381.58 L555.69,376.51 L556.23,372.19 L556.76,368.62 L557.29,365.67 L557.83,363.14 L558.36,360.9 L558.89,358.88 L559.43,357.12 L559.96,355.63 L560.49,354.43 L561.03,353.46 L561.56,352.65 L562.09,351.92 L562.63,351.27 L563.16,350.72 L563.69,350.3 L564.23,350.05 L564.76,349.96 L565.29,350.02 L565.83,350.19 L566.36,350.45 L566.89,350.79 L567.43,351.19 L567.96,351.66 L568.49,352.18 L569.03,352.75 L569.56,353.36 L570.09,354.01 L570.63,354.67 L571.16,355.27 L571.69,356.11 L595.95,356.11 L596.9,356.99 L597.86,357.74 L598.81,358.34 L599.76,358.71 L600.71,358.79 L601.67,358.53 L602.62,357.9 L603.57,356.92 L604.53,355.66 L605.48,354.21 L606.43,352.62 L607.39,350.98 L608.34,349.24 L609.29,347.2 L610.25,344.82 L611.2,342.22 L612.15,339.56 L613.11,337.01 L614.06,334.76 L615.01,332.97 L615.97,331.83 L616.92,331.57 L617.87,332.42 L618.82,334.22 L619.78,336.44 L620.73,338.59 L621.68,340.6 L622.64,342.55 L623.59,344.51 L624.54,346.48 L625.5,348.47 L626.45,350.49 L627.4,352.53 L628.36,354.61 L629.31,356.73 L630.26,358.9 L631.22,361.13 L632.17,363.45 L633.12,365.86 L634.07,368.34 L635.03,370.86 L635.98,373.4 L636.93,375.92 L637.89,378.39 L638.84,380.84 L639.79,383.29 L640.75,385.76 L641.7,388.24 L642.65,390.71 L643.61,393.15 L644.56,395.55 L645.51,397.88 L646.47,400.13 L647.42,402.28 L648.37,404.32 L649.33,406.27 L650.28,408.15 L651.23,409.98 L652.18,411.75 L653.14,413.46 L654.09,415.12 L655.04,416.72 L656,418.26 L656.95,419.74 L657.9,421.17 L658.86,422.53 L659.81,423.86 L660.76,425.14 L661.72,426.39 L662.67,427.61 L663.62,428.81 L664.58,429.99 L665.53,431.14 L666.48,432.28 L667.43,433.42 L668.39,434.53 L669.34,435.64 L670.29,436.73 L671.25,437.8 L672.2,438.86 L673.15,439.91 L674.11,440.95 L675.06,441.99 L676.01,443.03 L676.97,444.08 L677.92,445.13 L678.87,446.19 L679.83,447.27 L680.78,448.36 L681.73,449.45 L682.68,450.55 L683.64,451.66 L684.59,452.81 L685.54,454.01 L686.5,455.29 L687.45,456.67 L688.4,458.19 L689.36,459.89 L690.31,461.75 L691.26,463.75 L692.22,465.86 L693.17,468.06 L694.12,470.32 L695.08,472.63 L696.03,474.95 L696.98,477.32 L697.94,479.77 L698.89,482.33 L699.84,484.99 L700.79,487.76 L701.75,490.63 L702.7,493.59 L703.65,496.67 L704.61,499.88 L705.56,503.25 L706.51,506.77 L707.47,510.39 L708.42,514.09 L709.37,517.8 L710.33,521.51 L711.28,525.18 L712.23,528.84 L713.19,532.52 L714.14,536.21 L715.09,539.91 L716.04,543.61 L717,547.3 L717.95,550.97 L718.9,554.63 L719.86,558.32 L720.81,562.06 L721.76,565.78 L722.72,569.41 L723.67,572.85 L724.62,576.04 L725.58,578.88 L726.53,580.73 L727.48,580.71 L728.44,579.06 L729.39,576.64 L730.34,574.06 L731.3,571.45 L732.25,568.76 L733.2,566.02 L734.15,563.3 L735.11,560.69 L736.06,558.25 L737.01,555.98 L737.97,553.82 L738.92,551.74 L739.87,549.74 L740.83,547.83 L741.78,546 L742.73,544.27 L743.69,542.63 L744.64,541.05 L745.59,539.5 L746.55,537.98 L747.5,536.48 L748.45,535.02 L749.4,533.62 L750.36,532.28 L751.31,531.01 L752.26,529.82 L753.22,528.72 L754.17,527.71 L755.12,526.74 L756.08,525.81 L757.03,524.9 L757.98,524.02 L758.94,523.18 L759.89,522.38 L760.84,521.63 L761.8,520.94 L762.75,520.3 L763.7,519.73 L764.65,519.21 L765.61,518.7 L766.56,518.21 L767.51,517.72 L768.47,517.26 L769.42,516.83 L770.37,516.43 L771.33,516.06 L772.28,515.74 L773.23,515.48 L774.19,515.25 L775.14,515.06 L776.09,514.89 L777.05,514.74 L778,514.63 L778.95,514.56 L779.91,514.55 L780.86,514.6 L781.81,514.74 L782.76,514.95 L783.72,515.22 L784.67,515.52 L785.62,515.85 L785.62,592.7 Z" fill="#006400"/>
<path d="M465.57,592.7 L465.57,449.48 L466.1,449.4 L466.64,449.33 L467.17,449.25 L467.7,449.17 L468.24,449.07 L468.77,448.98 L469.3,448.88 L469.84,448.77 L470.37,448.67 L470.9,448.56 L471.44,448.45 L471.97,448.34 L472.5,448.22 L473.03,448.11 L473.57,448 L474.1,447.89 L474.63,447.77 L475.17,447.66 L475.7,447.54 L476.23,447.41 L476.77,447.29 L477.3,447.16 L477.83,447.03 L478.37,446.89 L478.9,446.74 L479.43,446.6 L479.97,446.44 L480.5,446.28 L481.03,446.11 L481.57,445.94 L482.1,445.76 L482.63,445.57 L483.17,445.37 L483.7,445.17 L484.23,444.94 L484.77,444.71 L485.3,444.46 L485.83,444.19 L486.37,443.91 L486.9,443.63 L487.43,443.33 L487.97,443.02 L488.5,442.7 L489.03,442.38 L489.57,442.06 L490.1,441.73 L490.63,441.39 L491.17,441.06 L491.7,440.72 L492.23,440.39 L492.77,440.05 L493.3,439.73 L493.83,439.4 L494.37,439.08 L494.9,438.77 L495.43,438.47 L495.97,438.17 L496.5,437.87 L497.03,437.57 L497.57,437.28 L498.1,436.98 L498.63,436.68 L499.17,436.38 L499.7,436.07 L500.23,435.77 L500.77,435.48 L501.3,435.18 L501.83,434.88 L502.37,434.59 L502.9,434.3 L503.43,434.02 L503.97,433.74 L504.5,433.46 L505.03,433.19 L505.57,432.92 L506.1,432.67 L506.63,432.41 L507.17,432.17 L507.7,431.93 L508.23,431.71 L508.76,431.49 L509.3,431.28 L509.83,431.07 L510.36,430.88 L510.9,430.7 L511.43,430.52 L511.96,430.36 L512.5,430.21 L513.03,430.07 L513.56,429.94 L514.1,429.83 L514.63,429.73 L515.16,429.65 L515.7,429.58 L516.23,429.55 L516.76,429.55 L517.3,429.58 L517.83,429.65 L518.36,429.75 L518.9,429.89 L519.43,430.05 L519.96,430.24 L520.5,430.45 L521.03,430.68 L521.56,430.92 L522.1,431.19 L522.63,431.46 L523.16,431.74 L523.7,432.03 L524.23,432.32 L524.76,432.62 L525.3,432.92 L525.83,433.24 L526.36,433.6 L526.9,434.02 L527.43,434.52 L527.96,435.09 L528.5,435.74 L529.03,436.44 L529.56,437.19 L530.1,437.98 L530.63,438.82 L531.16,439.67 L531.7,440.55 L532.23,441.43 L532.76,442.34 L533.3,443.28 L533.83,444.28 L534.36,445.39 L534.9,446.61 L535.43,447.94 L535.96,449.35 L536.5,450.84 L537.03,452.39 L537.56,453.99 L538.1,455.62 L538.63,457.34 L539.16,459.2 L539.7,461.28 L540.23,463.64 L540.76,466.31 L541.3,469.37 L541.83,472.97 L542.36,477.37 L542.9,482.7 L543.43,488.87 L543.96,495.65 L544.5,502.91 L545.03,510.61 L545.56,518.64 L546.09,526.53 L546.63,533.44 L547.16,538.44 L547.69,540.86 L548.23,540.59 L548.76,537.99 L549.29,533.66 L549.83,528.2 L550.36,522.18 L550.89,516.08 L551.43,510.3 L551.96,504.99 L552.49,500.07 L553.03,495.43 L553.56,491 L554.09,486.78 L554.63,482.8 L555.16,479.05 L555.69,475.56 L556.23,472.31 L556.76,469.29 L557.29,466.53 L557.83,464.08 L558.36,462.02 L558.89,460.31 L559.43,458.84 L559.96,457.55 L560.49,456.41 L561.03,455.47 L561.56,454.76 L562.09,454.34 L562.63,454.2 L563.16,454.29 L563.69,454.58 L564.23,455.01 L564.76,455.56 L565.29,456.2 L565.83,456.92 L566.36,457.71 L566.89,458.55 L567.43,459.46 L567.96,460.46 L568.49,461.54 L569.03,462.73 L569.56,464 L570.09,465.34 L570.63,466.69 L571.16,467.94 L571.69,469.68 L595.95,528.44 L596.9,523.44 L597.86,518.38 L598.81,512.93 L599.76,507.18 L600.71,501.08 L601.67,494.57 L602.62,487.85 L603.57,481.21 L604.53,474.87 L605.48,468.86 L606.43,462.99 L607.39,457.22 L608.34,451.59 L609.29,446.16 L610.25,440.97 L611.2,436.09 L612.15,431.54 L613.11,427.28 L614.06,423.23 L615.01,419.36 L615.97,415.72 L616.92,412.36 L617.87,409.33 L618.82,406.62 L619.78,404.12 L620.73,401.76 L621.68,399.61 L622.64,397.8 L623.59,396.43 L624.54,395.44 L625.5,394.61 L626.45,393.85 L627.4,393.2 L628.36,392.69 L629.31,392.37 L630.26,392.28 L631.22,392.43 L632.17,392.77 L633.12,393.26 L634.07,393.88 L635.03,394.61 L635.98,395.43 L636.93,396.32 L637.89,397.29 L638.84,398.33 L639.79,399.48 L640.75,400.74 L641.7,402.09 L642.65,403.51 L643.61,404.97 L644.56,406.44 L645.51,407.91 L646.47,409.35 L647.42,410.73 L648.37,412.04 L649.33,413.29 L650.28,414.51 L651.23,415.7 L652.18,416.88 L653.14,418.04 L654.09,419.19 L655.04,420.34 L656,421.47 L656.95,422.6 L657.9,423.73 L658.86,424.85 L659.81,425.98 L660.76,427.09 L661.72,428.21 L662.67,429.31 L663.62,430.41 L664.58,431.51 L665.53,432.6 L666.48,433.69 L667.43,434.77 L668.39,435.85 L669.34,436.91 L670.29,437.95 L671.25,438.97 L672.2,439.99 L673.15,440.99 L674.11,442 L675.06,443 L676.01,444.02 L676.97,445.05 L677.92,446.1 L678.87,447.17 L679.83,448.28 L680.78,449.42 L681.73,450.62 L682.68,451.91 L683.64,453.29 L684.59,454.74 L685.54,456.26 L686.5,457.87 L687.45,459.57 L688.4,461.36 L689.36,463.23 L690.31,465.19 L691.26,467.22 L692.22,469.31 L693.17,471.46 L694.12,473.67 L695.08,475.93 L696.03,478.3 L696.98,480.8 L697.94,483.42 L698.89,486.16 L699.84,488.99 L700.79,491.9 L701.75,494.88 L702.7,497.92 L703.65,501.07 L704.61,504.32 L705.56,507.67 L706.51,511.11 L707.47,514.62 L708.42,518.18 L709.37,521.78 L710.33,525.43 L711.28,529.13 L712.23,532.91 L713.19,536.76 L714.14,540.65 L715.09,544.56 L716.04,548.46 L717,552.35 L717.95,556.21 L718.9,560.1 L719.86,564 L720.81,567.9 L721.76,571.77 L722.72,575.56 L723.67,579.25 L724.62,582.72 L725.58,585.28 L726.53,585.97 L727.48,584.86 L728.44,582.48 L729.39,579.28 L730.34,575.83 L731.3,572.65 L732.25,569.86 L733.2,567.28 L734.15,564.84 L735.11,562.56 L736.06,560.47 L737.01,558.52 L737.97,556.64 L738.92,554.81 L739.87,553.05 L740.83,551.39 L741.78,549.85 L742.73,548.48 L743.69,547.28 L744.64,546.21 L745.59,545.19 L746.55,544.2 L747.5,543.24 L748.45,542.33 L749.4,541.48 L750.36,540.69 L751.31,539.97 L752.26,539.33 L753.22,538.79 L754.17,538.32 L755.12,537.89 L756.08,537.47 L757.03,537.06 L757.98,536.67 L758.94,536.31 L759.89,535.98 L760.84,535.71 L761.8,535.5 L762.75,535.35 L763.7,535.29 L764.65,535.3 L765.61,535.39 L766.56,535.55 L767.51,535.78 L768.47,536.06 L769.42,536.4 L770.37,536.77 L771.33,537.19 L772.28,537.63 L773.23,538.11 L774.19,538.63 L775.14,539.24 L776.09,539.95 L777.05,540.75 L778,541.61 L778.95,542.51 L779.91,543.42 L780.86,544.33 L781.81,545.24 L782.76,546.17 L783.72,547.14 L784.67,548.12 L785.62,549.16 L785.62,592.7 Z" fill="#ee7600"/>
<clipPath id="cld1"><path d="M465.57,388.89 L466.1,388.73 L466.64,388.61 L467.17,388.48 L467.7,388.36 L468.24,388.25 L468.77,388.16 L469.3,388.1 L469.84,388.08 L470.37,388.09 L470.9,388.13 L471.44,388.2 L471.97,388.29 L472.5,388.4 L473.03,388.52 L473.57,388.65 L474.1,388.79 L474.63,388.93 L475.17,389.08 L475.7,389.24 L476.23,389.39 L476.77,389.55 L477.3,389.71 L477.83,389.86 L478.37,390.02 L478.9,390.17 L479.43,390.32 L479.97,390.49 L480.5,390.66 L481.03,390.84 L481.57,391.03 L482.1,391.23 L482.63,391.42 L483.17,391.62 L483.7,391.8 L484.23,391.98 L484.77,392.15 L485.3,392.31 L485.83,392.45 L486.37,392.57 L486.9,392.67 L487.43,392.74 L487.97,392.79 L488.5,392.81 L489.03,392.81 L489.57,392.79 L490.1,392.76 L490.63,392.71 L491.17,392.66 L491.7,392.6 L492.23,392.52 L492.77,392.44 L493.3,392.35 L493.83,392.25 L494.37,392.15 L494.9,392.04 L495.43,391.93 L495.97,391.81 L496.5,391.7 L497.03,391.57 L497.57,391.45 L498.1,391.32 L498.63,391.2 L499.17,391.07 L499.7,390.95 L500.23,390.83 L500.77,390.71 L501.3,390.6 L501.83,390.49 L502.37,390.38 L502.9,390.28 L503.43,390.18 L503.97,390.09 L504.5,389.99 L505.03,389.9 L505.57,389.8 L506.1,389.71 L506.63,389.61 L507.17,389.51 L507.7,389.42 L508.23,389.32 L508.76,389.23 L509.3,389.14 L509.83,389.04 L510.36,388.96 L510.9,388.87 L511.43,388.78 L511.96,388.7 L512.5,388.62 L513.03,388.55 L513.56,388.48 L514.1,388.42 L514.63,388.39 L515.16,388.39 L515.7,388.43 L516.23,388.53 L516.76,388.67 L517.3,388.85 L517.83,389.07 L518.36,389.32 L518.9,389.6 L519.43,389.9 L519.96,390.22 L520.5,390.56 L521.03,390.9 L521.56,391.25 L522.1,391.6 L522.63,391.96 L523.16,392.34 L523.7,392.76 L524.23,393.25 L524.76,393.82 L525.3,394.47 L525.83,395.2 L526.36,396.01 L526.9,396.87 L527.43,397.79 L527.96,398.75 L528.5,399.76 L529.03,400.79 L529.56,401.86 L530.1,402.94 L530.63,404.07 L531.16,405.26 L531.7,406.56 L532.23,408 L532.76,409.57 L533.3,411.26 L533.83,413.06 L534.36,414.93 L534.9,416.86 L535.43,418.82 L535.96,420.78 L536.5,422.75 L537.03,424.71 L537.56,426.7 L538.1,428.76 L538.63,430.92 L539.16,433.24 L539.7,435.73 L540.23,438.45 L540.23,463.64 L539.7,461.28 L539.16,459.2 L538.63,457.34 L538.1,455.62 L537.56,453.99 L537.03,452.39 L536.5,450.84 L535.96,449.35 L535.43,447.94 L534.9,446.61 L534.36,445.39 L533.83,444.28 L533.3,443.28 L532.76,442.34 L532.23,441.43 L531.7,440.55 L531.16,439.67 L530.63,438.82 L530.1,437.98 L529.56,437.19 L529.03,436.44 L528.5,435.74 L527.96,435.09 L527.43,434.52 L526.9,434.02 L526.36,433.6 L525.83,433.24 L525.3,432.92 L524.76,432.62 L524.23,432.32 L523.7,432.03 L523.16,431.74 L522.63,431.46 L522.1,431.19 L521.56,430.92 L521.03,430.68 L520.5,430.45 L519.96,430.24 L519.43,430.05 L518.9,429.89 L518.36,429.75 L517.83,429.65 L517.3,429.58 L516.76,429.55 L516.23,429.55 L515.7,429.58 L515.16,429.65 L514.63,429.73 L514.1,429.83 L513.56,429.94 L513.03,430.07 L512.5,430.21 L511.96,430.36 L511.43,430.52 L510.9,430.7 L510.36,430.88 L509.83,431.07 L509.3,431.28 L508.76,431.49 L508.23,431.71 L507.7,431.93 L507.17,432.17 L506.63,432.41 L506.1,432.67 L505.57,432.92 L505.03,433.19 L504.5,433.46 L503.97,433.74 L503.43,434.02 L502.9,434.3 L502.37,434.59 L501.83,434.88 L501.3,435.18 L500.77,435.48 L500.23,435.77 L499.7,436.07 L499.17,436.38 L498.63,436.68 L498.1,436.98 L497.57,437.28 L497.03,437.57 L496.5,437.87 L495.97,438.17 L495.43,438.47 L494.9,438.77 L494.37,439.08 L493.83,439.4 L493.3,439.73 L492.77,440.05 L492.23,440.39 L491.7,440.72 L491.17,441.06 L490.63,441.39 L490.1,441.73 L489.57,442.06 L489.03,442.38 L488.5,442.7 L487.97,443.02 L487.43,443.33 L486.9,443.63 L486.37,443.91 L485.83,444.19 L485.3,444.46 L484.77,444.71 L484.23,444.94 L483.7,445.17 L483.17,445.37 L482.63,445.57 L482.1,445.76 L481.57,445.94 L481.03,446.11 L480.5,446.28 L479.97,446.44 L479.43,446.6 L478.9,446.74 L478.37,446.89 L477.83,447.03 L477.3,447.16 L476.77,447.29 L476.23,447.41 L475.7,447.54 L475.17,447.66 L474.63,447.77 L474.1,447.89 L473.57,448 L473.03,448.11 L472.5,448.22 L471.97,448.34 L471.44,448.45 L470.9,448.56 L470.37,448.67 L469.84,448.77 L469.3,448.88 L468.77,448.98 L468.24,449.07 L467.7,449.17 L467.17,449.25 L466.64,449.33 L466.1,449.4 L465.57,449.48 Z"/></clipPath>
<path d="M462.57,590.2 H541.7 M462.57,584.93 H541.7 M462.57,579.66 H541.7 M462.57,574.39 H541.7 M462.57,569.12 H541.7 M462.57,563.85 H541.7 M462.57,558.58 H541.7 M462.57,553.31 H541.7 M462.57,548.04 H541.7 M462.57,542.77 H541.7 M462.57,537.5 H541.7 M462.57,532.23 H541.7 M462.57,526.96 H541.7 M462.57,521.69 H541.7 M462.57,516.42 H541.7 M462.57,511.15 H541.7 M462.57,505.88 H541.7 M462.57,500.61 H541.7 M462.57,495.34 H541.7 M462.57,490.07 H541.7 M462.57,484.8 H541.7 M462.57,479.53 H541.7 M462.57,474.26 H541.7 M462.57,468.99 H541.7 M462.57,463.72 H541.7 M462.57,458.45 H541.7 M462.57,453.18 H541.7 M462.57,447.91 H541.7 M462.57,442.64 H541.7 M462.57,437.37 H541.7 M462.57,432.1 H541.7 M462.57,426.83 H541.7 M462.57,421.56 H541.7 M462.57,416.29 H541.7 M462.57,411.02 H541.7 M462.57,405.75 H541.7 M462.57,400.48 H541.7 M462.57,395.21 H541.7 M462.57,389.94 H541.7 M462.57,384.67 H541.7 M462.57,379.4 H541.7 M462.57,374.13 H541.7 M462.57,368.86 H541.7 M462.57,363.59 H541.7 M462.57,358.32 H541.7 M462.57,353.05 H541.7 M462.57,347.78 H541.7 M462.57,342.51 H541.7 M462.57,337.24 H541.7 M462.57,331.97 H541.7" stroke="#000" stroke-width="0.78" clip-path="url(#cld1)"/>
<clipPath id="cld2"><path d="M545.9,592.7 L548.23,540.59 L548.76,537.99 L549.29,533.66 L549.83,528.2 L550.36,522.18 L550.89,516.08 L551.43,510.3 L551.96,504.99 L552.49,500.07 L553.03,495.43 L553.56,491 L554.09,486.78 L554.63,482.8 L555.16,479.05 L555.69,475.56 L556.23,472.31 L556.76,469.29 L557.29,466.53 L557.83,464.08 L558.36,462.02 L558.89,460.31 L559.43,458.84 L559.96,457.55 L560.49,456.41 L561.03,455.47 L561.56,454.76 L562.09,454.34 L562.63,454.2 L563.16,454.29 L563.69,454.58 L564.23,455.01 L564.76,455.56 L565.29,456.2 L565.83,456.92 L566.36,457.71 L566.89,458.55 L567.43,459.46 L567.96,460.46 L568.49,461.54 L569.03,462.73 L569.56,464 L570.09,465.34 L570.63,466.69 L571.16,467.94 L571.69,469.68 L571.69,592.7 Z"/></clipPath>
<path d="M544.77,590.2 H572.69 M544.77,584.93 H572.69 M544.77,579.66 H572.69 M544.77,574.39 H572.69 M544.77,569.12 H572.69 M544.77,563.85 H572.69 M544.77,558.58 H572.69 M544.77,553.31 H572.69 M544.77,548.04 H572.69 M544.77,542.77 H572.69 M544.77,537.5 H572.69 M544.77,532.23 H572.69 M544.77,526.96 H572.69 M544.77,521.69 H572.69 M544.77,516.42 H572.69 M544.77,511.15 H572.69 M544.77,505.88 H572.69 M544.77,500.61 H572.69 M544.77,495.34 H572.69 M544.77,490.07 H572.69 M544.77,484.8 H572.69 M544.77,479.53 H572.69 M544.77,474.26 H572.69 M544.77,468.99 H572.69 M544.77,463.72 H572.69 M544.77,458.45 H572.69 M544.77,453.18 H572.69 M544.77,447.91 H572.69 M544.77,442.64 H572.69 M544.77,437.37 H572.69 M544.77,432.1 H572.69 M544.77,426.83 H572.69 M544.77,421.56 H572.69 M544.77,416.29 H572.69 M544.77,411.02 H572.69 M544.77,405.75 H572.69 M544.77,400.48 H572.69 M544.77,395.21 H572.69 M544.77,389.94 H572.69 M544.77,384.67 H572.69 M544.77,379.4 H572.69 M544.77,374.13 H572.69 M544.77,368.86 H572.69 M544.77,363.59 H572.69 M544.77,358.32 H572.69 M544.77,353.05 H572.69 M544.77,347.78 H572.69 M544.77,342.51 H572.69 M544.77,337.24 H572.69 M544.77,331.97 H572.69" stroke="#000" stroke-width="0.78" clip-path="url(#cld2)"/>
<clipPath id="cld3"><path d="M657.9,421.17 L658.86,422.53 L659.81,423.86 L660.76,425.14 L661.72,426.39 L662.67,427.61 L663.62,428.81 L664.58,429.99 L665.53,431.14 L666.48,432.28 L667.43,433.42 L668.39,434.53 L669.34,435.64 L670.29,436.73 L671.25,437.8 L672.2,438.86 L673.15,439.91 L674.11,440.95 L675.06,441.99 L676.01,443.03 L676.97,444.08 L677.92,445.13 L678.87,446.19 L679.83,447.27 L680.78,448.36 L681.73,449.45 L682.68,450.55 L683.64,451.66 L684.59,452.81 L685.54,454.01 L686.5,455.29 L687.45,456.67 L688.4,458.19 L689.36,459.89 L690.31,461.75 L691.26,463.75 L692.22,465.86 L693.17,468.06 L694.12,470.32 L695.08,472.63 L696.03,474.95 L696.98,477.32 L697.94,479.77 L698.89,482.33 L699.84,484.99 L700.79,487.76 L701.75,490.63 L702.7,493.59 L703.65,496.67 L704.61,499.88 L705.56,503.25 L706.51,506.77 L707.47,510.39 L708.42,514.09 L709.37,517.8 L710.33,521.51 L711.28,525.18 L712.23,528.84 L713.19,532.52 L714.14,536.21 L715.09,539.91 L716.04,543.61 L717,547.3 L717.95,550.97 L718.9,554.63 L719.86,558.32 L720.81,562.06 L721.76,565.78 L722.72,569.41 L723.67,572.85 L724.62,576.04 L725.58,578.88 L726.53,580.73 L727.48,580.71 L728.44,579.06 L729.39,576.64 L730.34,574.06 L731.3,571.45 L732.25,568.76 L733.2,566.02 L734.15,563.3 L735.11,560.69 L736.06,558.25 L737.01,555.98 L737.97,553.82 L738.92,551.74 L739.87,549.74 L740.83,547.83 L741.78,546 L742.73,544.27 L743.69,542.63 L744.64,541.05 L745.59,539.5 L746.55,537.98 L747.5,536.48 L748.45,535.02 L749.4,533.62 L750.36,532.28 L751.31,531.01 L752.26,529.82 L753.22,528.72 L754.17,527.71 L755.12,526.74 L756.08,525.81 L757.03,524.9 L757.98,524.02 L758.94,523.18 L759.89,522.38 L760.84,521.63 L761.8,520.94 L762.75,520.3 L763.7,519.73 L764.65,519.21 L765.61,518.7 L766.56,518.21 L767.51,517.72 L768.47,517.26 L769.42,516.83 L770.37,516.43 L771.33,516.06 L772.28,515.74 L773.23,515.48 L774.19,515.25 L775.14,515.06 L776.09,514.89 L777.05,514.74 L778,514.63 L778.95,514.56 L779.91,514.55 L780.86,514.6 L781.81,514.74 L782.76,514.95 L783.72,515.22 L784.67,515.52 L785.62,515.85 L785.62,549.16 L784.67,548.12 L783.72,547.14 L782.76,546.17 L781.81,545.24 L780.86,544.33 L779.91,543.42 L778.95,542.51 L778,541.61 L777.05,540.75 L776.09,539.95 L775.14,539.24 L774.19,538.63 L773.23,538.11 L772.28,537.63 L771.33,537.19 L770.37,536.77 L769.42,536.4 L768.47,536.06 L767.51,535.78 L766.56,535.55 L765.61,535.39 L764.65,535.3 L763.7,535.29 L762.75,535.35 L761.8,535.5 L760.84,535.71 L759.89,535.98 L758.94,536.31 L757.98,536.67 L757.03,537.06 L756.08,537.47 L755.12,537.89 L754.17,538.32 L753.22,538.79 L752.26,539.33 L751.31,539.97 L750.36,540.69 L749.4,541.48 L748.45,542.33 L747.5,543.24 L746.55,544.2 L745.59,545.19 L744.64,546.21 L743.69,547.28 L742.73,548.48 L741.78,549.85 L740.83,551.39 L739.87,553.05 L738.92,554.81 L737.97,556.64 L737.01,558.52 L736.06,560.47 L735.11,562.56 L734.15,564.84 L733.2,567.28 L732.25,569.86 L731.3,572.65 L730.34,575.83 L729.39,579.28 L728.44,582.48 L727.48,584.86 L726.53,585.97 L725.58,585.28 L724.62,582.72 L723.67,579.25 L722.72,575.56 L721.76,571.77 L720.81,567.9 L719.86,564 L718.9,560.1 L717.95,556.21 L717,552.35 L716.04,548.46 L715.09,544.56 L714.14,540.65 L713.19,536.76 L712.23,532.91 L711.28,529.13 L710.33,525.43 L709.37,521.78 L708.42,518.18 L707.47,514.62 L706.51,511.11 L705.56,507.67 L704.61,504.32 L703.65,501.07 L702.7,497.92 L701.75,494.88 L700.79,491.9 L699.84,488.99 L698.89,486.16 L697.94,483.42 L696.98,480.8 L696.03,478.3 L695.08,475.93 L694.12,473.67 L693.17,471.46 L692.22,469.31 L691.26,467.22 L690.31,465.19 L689.36,463.23 L688.4,461.36 L687.45,459.57 L686.5,457.87 L685.54,456.26 L684.59,454.74 L683.64,453.29 L682.68,451.91 L681.73,450.62 L680.78,449.42 L679.83,448.28 L678.87,447.17 L677.92,446.1 L676.97,445.05 L676.01,444.02 L675.06,443 L674.11,442 L673.15,440.99 L672.2,439.99 L671.25,438.97 L670.29,437.95 L669.34,436.91 L668.39,435.85 L667.43,434.77 L666.48,433.69 L665.53,432.6 L664.58,431.51 L663.62,430.41 L662.67,429.31 L661.72,428.21 L660.76,427.09 L659.81,425.98 L658.86,424.85 L657.9,423.73 Z"/></clipPath>
<path d="M654.6,590.2 H786.62 M654.6,584.93 H786.62 M654.6,579.66 H786.62 M654.6,574.39 H786.62 M654.6,569.12 H786.62 M654.6,563.85 H786.62 M654.6,558.58 H786.62 M654.6,553.31 H786.62 M654.6,548.04 H786.62 M654.6,542.77 H786.62 M654.6,537.5 H786.62 M654.6,532.23 H786.62 M654.6,526.96 H786.62 M654.6,521.69 H786.62 M654.6,516.42 H786.62 M654.6,511.15 H786.62 M654.6,505.88 H786.62 M654.6,500.61 H786.62 M654.6,495.34 H786.62 M654.6,490.07 H786.62 M654.6,484.8 H786.62 M654.6,479.53 H786.62 M654.6,474.26 H786.62 M654.6,468.99 H786.62 M654.6,463.72 H786.62 M654.6,458.45 H786.62 M654.6,453.18 H786.62 M654.6,447.91 H786.62 M654.6,442.64 H786.62 M654.6,437.37 H786.62 M654.6,432.1 H786.62 M654.6,426.83 H786.62 M654.6,421.56 H786.62 M654.6,416.29 H786.62 M654.6,411.02 H786.62 M654.6,405.75 H786.62 M654.6,400.48 H786.62 M654.6,395.21 H786.62 M654.6,389.94 H786.62 M654.6,384.67 H786.62 M654.6,379.4 H786.62 M654.6,374.13 H786.62 M654.6,368.86 H786.62 M654.6,363.59 H786.62 M654.6,358.32 H786.62 M654.6,353.05 H786.62 M654.6,347.78 H786.62 M654.6,342.51 H786.62 M654.6,337.24 H786.62 M654.6,331.97 H786.62" stroke="#000" stroke-width="0.78" clip-path="url(#cld3)"/>
<clipPath id="cld4"><path d="M726.53,592.7 L726.53,585.97 L727.48,584.86 L728.44,582.48 L729.39,579.28 L730.34,575.83 L731.3,572.65 L732.25,569.86 L733.2,567.28 L734.15,564.84 L735.11,562.56 L736.06,560.47 L737.01,558.52 L737.97,556.64 L738.92,554.81 L739.87,553.05 L740.83,551.39 L741.78,549.85 L742.73,548.48 L743.69,547.28 L744.64,546.21 L745.59,545.19 L746.55,544.2 L747.5,543.24 L748.45,542.33 L749.4,541.48 L750.36,540.69 L751.31,539.97 L752.26,539.33 L753.22,538.79 L754.17,538.32 L755.12,537.89 L756.08,537.47 L757.03,537.06 L757.98,536.67 L758.94,536.31 L759.89,535.98 L760.84,535.71 L761.8,535.5 L762.75,535.35 L763.7,535.29 L764.65,535.3 L765.61,535.39 L766.56,535.55 L767.51,535.78 L768.47,536.06 L769.42,536.4 L770.37,536.77 L771.33,537.19 L772.28,537.63 L773.23,538.11 L774.19,538.63 L775.14,539.24 L776.09,539.95 L777.05,540.75 L778,541.61 L778.95,542.51 L779.91,543.42 L780.86,544.33 L781.81,545.24 L782.76,546.17 L783.72,547.14 L784.67,548.12 L785.62,549.16 L785.62,592.7 Z"/></clipPath>
<path d="M722.66,590.2 H786.62 M722.66,584.93 H786.62 M722.66,579.66 H786.62 M722.66,574.39 H786.62 M722.66,569.12 H786.62 M722.66,563.85 H786.62 M722.66,558.58 H786.62 M722.66,553.31 H786.62 M722.66,548.04 H786.62 M722.66,542.77 H786.62 M722.66,537.5 H786.62 M722.66,532.23 H786.62 M722.66,526.96 H786.62 M722.66,521.69 H786.62 M722.66,516.42 H786.62 M722.66,511.15 H786.62 M722.66,505.88 H786.62 M722.66,500.61 H786.62 M722.66,495.34 H786.62 M722.66,490.07 H786.62 M722.66,484.8 H786.62 M722.66,479.53 H786.62 M722.66,474.26 H786.62 M722.66,468.99 H786.62 M722.66,463.72 H786.62 M722.66,458.45 H786.62 M722.66,453.18 H786.62 M722.66,447.91 H786.62 M722.66,442.64 H786.62 M722.66,437.37 H786.62 M722.66,432.1 H786.62 M722.66,426.83 H786.62 M722.66,421.56 H786.62 M722.66,416.29 H786.62 M722.66,411.02 H786.62 M722.66,405.75 H786.62 M722.66,400.48 H786.62 M722.66,395.21 H786.62 M722.66,389.94 H786.62 M722.66,384.67 H786.62 M722.66,379.4 H786.62 M722.66,374.13 H786.62 M722.66,368.86 H786.62 M722.66,363.59 H786.62 M722.66,358.32 H786.62 M722.66,353.05 H786.62 M722.66,347.78 H786.62 M722.66,342.51 H786.62 M722.66,337.24 H786.62 M722.66,331.97 H786.62" stroke="#000" stroke-width="0.78" clip-path="url(#cld4)"/>
<path d="M462.2,330.1 H832.9 V592.7 H462.2 Z" fill="none" stroke="#0a0a0a" stroke-width="0.9"/>
<rect x="571.5" y="329.1" width="24.8" height="264.6" fill="#fff"/>
<rect x="785.72" y="328.6" width="25.28" height="3" fill="#fff"/>
<path d="M785.72,330.1 H811" stroke="#bbb" stroke-width="0.7"/>
<path d="M456.8,592.7 H462.2 M832.9,592.7 H838.5" stroke="#0a0a0a" stroke-width="0.9"/>
<text transform="translate(453.4,594) scale(0.85,1)" text-anchor="end" font-size="9.8" class="tk">0</text>
<path d="M456.8,566.47 H462.2 M832.9,566.47 H838.5" stroke="#0a0a0a" stroke-width="0.9"/>
<text transform="translate(453.4,569.77) scale(0.85,1)" text-anchor="end" font-size="9.8" class="tk">10</text>
<path d="M456.8,540.24 H462.2 M832.9,540.24 H838.5" stroke="#0a0a0a" stroke-width="0.9"/>
<text transform="translate(453.4,543.54) scale(0.85,1)" text-anchor="end" font-size="9.8" class="tk">20</text>
<path d="M456.8,514.01 H462.2 M832.9,514.01 H838.5" stroke="#0a0a0a" stroke-width="0.9"/>
<text transform="translate(453.4,517.31) scale(0.85,1)" text-anchor="end" font-size="9.8" class="tk">30</text>
<path d="M456.8,487.78 H462.2 M832.9,487.78 H838.5" stroke="#0a0a0a" stroke-width="0.9"/>
<text transform="translate(453.4,491.08) scale(0.85,1)" text-anchor="end" font-size="9.8" class="tk">40</text>
<path d="M456.8,461.55 H462.2 M832.9,461.55 H838.5" stroke="#0a0a0a" stroke-width="0.9"/>
<text transform="translate(453.4,464.85) scale(0.85,1)" text-anchor="end" font-size="9.8" class="tk">50</text>
<path d="M456.8,435.32 H462.2 M832.9,435.32 H838.5" stroke="#0a0a0a" stroke-width="0.9"/>
<text transform="translate(453.4,438.62) scale(0.85,1)" text-anchor="end" font-size="9.8" class="tk">60</text>
<path d="M456.8,409.09 H462.2 M832.9,409.09 H838.5" stroke="#0a0a0a" stroke-width="0.9"/>
<text transform="translate(453.4,412.39) scale(0.85,1)" text-anchor="end" font-size="9.8" class="tk">70</text>
<path d="M456.8,382.86 H462.2 M832.9,382.86 H838.5" stroke="#0a0a0a" stroke-width="0.9"/>
<text transform="translate(453.4,386.16) scale(0.85,1)" text-anchor="end" font-size="9.8" class="tk">80</text>
<path d="M456.8,356.63 H462.2 M832.9,356.63 H838.5" stroke="#0a0a0a" stroke-width="0.9"/>
<text transform="translate(453.4,359.93) scale(0.85,1)" text-anchor="end" font-size="9.8" class="tk">90</text>
<path d="M456.8,330.4 H462.2 M832.9,330.4 H838.5" stroke="#0a0a0a" stroke-width="0.9"/>
<text transform="translate(453.4,336.1) scale(0.85,1)" text-anchor="end" font-size="9.8" class="tk">100</text>
<path d="M462.2,592.7 V598" stroke="#0a0a0a" stroke-width="0.9"/>
<path d="M462.2,330.1 V328.3" stroke="#0a0a0a" stroke-width="0.9"/>
<text transform="translate(462.2,609.6) scale(0.85,1)" text-anchor="middle" font-size="9.8" class="tk">1900</text>
<path d="M495.89,592.7 V598" stroke="#0a0a0a" stroke-width="0.9"/>
<path d="M495.89,330.1 V328.3" stroke="#0a0a0a" stroke-width="0.9"/>
<text transform="translate(495.89,609.6) scale(0.85,1)" text-anchor="middle" font-size="9.8" class="tk">1910</text>
<path d="M529.58,592.7 V598" stroke="#0a0a0a" stroke-width="0.9"/>
<path d="M529.58,330.1 V328.3" stroke="#0a0a0a" stroke-width="0.9"/>
<text transform="translate(529.58,609.6) scale(0.85,1)" text-anchor="middle" font-size="9.8" class="tk">1920</text>
<path d="M563.27,592.7 V598" stroke="#0a0a0a" stroke-width="0.9"/>
<path d="M563.27,330.1 V328.3" stroke="#0a0a0a" stroke-width="0.9"/>
<text transform="translate(563.27,609.6) scale(0.85,1)" text-anchor="middle" font-size="9.8" class="tk">1930</text>
<path d="M596.96,592.7 V598" stroke="#0a0a0a" stroke-width="0.9"/>
<path d="M596.96,330.1 V328.3" stroke="#0a0a0a" stroke-width="0.9"/>
<text transform="translate(596.96,609.6) scale(0.85,1)" text-anchor="middle" font-size="9.8" class="tk">1940</text>
<path d="M630.65,592.7 V598" stroke="#0a0a0a" stroke-width="0.9"/>
<path d="M630.65,330.1 V328.3" stroke="#0a0a0a" stroke-width="0.9"/>
<text transform="translate(630.65,609.6) scale(0.85,1)" text-anchor="middle" font-size="9.8" class="tk">1950</text>
<path d="M664.34,592.7 V598" stroke="#0a0a0a" stroke-width="0.9"/>
<path d="M664.34,330.1 V328.3" stroke="#0a0a0a" stroke-width="0.9"/>
<text transform="translate(664.34,609.6) scale(0.85,1)" text-anchor="middle" font-size="9.8" class="tk">1960</text>
<path d="M698.03,592.7 V598" stroke="#0a0a0a" stroke-width="0.9"/>
<path d="M698.03,330.1 V328.3" stroke="#0a0a0a" stroke-width="0.9"/>
<text transform="translate(698.03,609.6) scale(0.85,1)" text-anchor="middle" font-size="9.8" class="tk">1970</text>
<path d="M731.72,592.7 V598" stroke="#0a0a0a" stroke-width="0.9"/>
<path d="M731.72,330.1 V328.3" stroke="#0a0a0a" stroke-width="0.9"/>
<text transform="translate(731.72,609.6) scale(0.85,1)" text-anchor="middle" font-size="9.8" class="tk">1980</text>
<path d="M765.41,592.7 V598" stroke="#0a0a0a" stroke-width="0.9"/>
<path d="M765.41,330.1 V328.3" stroke="#0a0a0a" stroke-width="0.9"/>
<text transform="translate(765.41,609.6) scale(0.85,1)" text-anchor="middle" font-size="9.8" class="tk">1990</text>
<path d="M799.1,592.7 V598" stroke="#0a0a0a" stroke-width="0.9"/>
<path d="M799.1,330.1 V325.1" stroke="#0a0a0a" stroke-width="0.9"/>
<text transform="translate(799.1,609.6) scale(0.85,1)" text-anchor="middle" font-size="9.8" class="tk">2000</text>
<path d="M832.79,592.7 V598" stroke="#0a0a0a" stroke-width="0.9"/>
<path d="M832.79,330.1 V325.1" stroke="#0a0a0a" stroke-width="0.9"/>
<text transform="translate(832.79,609.6) scale(0.85,1)" text-anchor="middle" font-size="9.8" class="tk">2010</text>
<text transform="translate(429.1,461.5) rotate(-90) scale(1.12,1)" text-anchor="middle" font-size="7.7" class="tk">Contribution to all forcing (%)</text>
<text transform="translate(467.7,322) scale(1.0,1)" font-size="13">(d)</text>
</g>
</svg>
</body></html>
